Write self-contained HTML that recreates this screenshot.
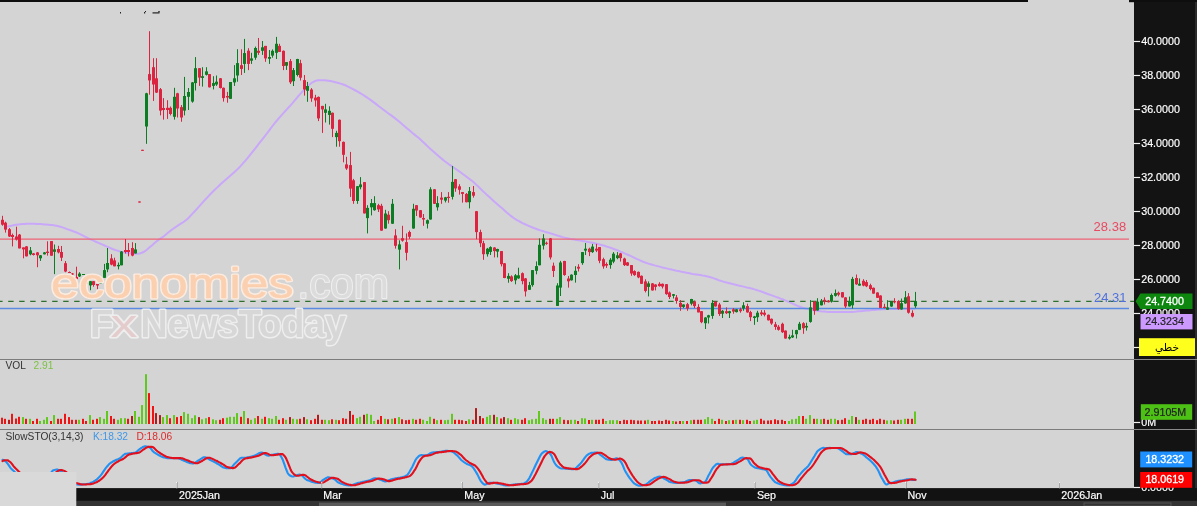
<!DOCTYPE html>
<html lang="en"><head><meta charset="utf-8"><title>Chart</title>
<style>html,body{margin:0;padding:0;background:#d4d4d4;}body{width:1197px;height:506px;overflow:hidden;font-family:"Liberation Sans","DejaVu Sans",sans-serif;}svg{display:block;}</style>
</head><body>
<svg width="1197" height="506" viewBox="0 0 1197 506" font-family="'Liberation Sans', 'DejaVu Sans', sans-serif">
<rect x="0" y="0" width="1197" height="506" fill="#d4d4d4"/>
<g fill="#222"><rect x="120" y="12" width="1" height="1.5"/><rect x="144" y="12" width="1.2" height="1.5"/><rect x="145" y="11" width="1" height="1"/><rect x="152.5" y="12.3" width="7" height="1.2"/><rect x="158" y="11.3" width="2" height="1"/></g>
<path d="M6.5,226.6 L8.5,226.3 L10.5,225.9 L12.5,225.5 L14.5,225.1 L16.5,224.7 L18.5,224.4 L20.5,224.2 L22.5,224.0 L24.5,223.9 L26.5,223.8 L28.5,223.7 L30.5,223.7 L32.5,223.7 L34.5,223.8 L36.5,223.9 L38.5,224.0 L40.5,224.1 L42.5,224.2 L44.5,224.4 L46.5,224.5 L48.5,224.7 L50.5,224.9 L52.5,225.1 L54.5,225.4 L56.5,225.7 L58.5,226.2 L60.5,226.8 L62.5,227.4 L64.5,228.1 L66.5,228.9 L68.5,229.6 L70.5,230.3 L72.5,231.0 L74.5,231.7 L76.5,232.5 L78.5,233.4 L80.5,234.3 L82.5,235.3 L84.5,236.4 L86.5,237.4 L88.5,238.4 L90.5,239.3 L92.5,240.2 L94.5,241.1 L96.5,242.0 L98.5,242.9 L100.5,243.7 L102.5,244.6 L104.5,245.5 L106.5,246.4 L108.5,247.2 L110.5,248.1 L112.5,249.0 L114.5,249.8 L116.5,250.4 L118.5,251.0 L120.5,251.6 L122.5,252.1 L124.5,252.5 L126.5,252.8 L128.5,253.1 L130.5,253.3 L132.5,253.5 L134.5,253.7 L136.5,253.8 L138.5,253.7 L140.5,253.2 L142.5,252.5 L144.5,251.5 L146.5,250.0 L148.5,248.3 L150.5,246.6 L152.5,244.9 L154.5,243.1 L156.5,241.4 L158.5,239.9 L160.5,238.5 L162.5,237.2 L164.5,235.7 L166.5,234.0 L168.5,232.3 L170.5,230.7 L172.5,229.2 L174.5,227.8 L176.5,226.5 L178.5,225.2 L180.5,223.9 L182.5,222.7 L184.5,221.3 L186.5,219.7 L188.5,217.9 L190.5,215.8 L192.5,213.6 L194.5,211.5 L196.5,209.3 L198.5,207.1 L200.5,204.8 L202.5,202.6 L204.5,200.4 L206.5,198.3 L208.5,196.1 L210.5,194.0 L212.5,192.0 L214.5,190.0 L216.5,188.1 L218.5,186.2 L220.5,184.3 L222.5,182.5 L224.5,180.8 L226.5,179.1 L228.5,177.3 L230.5,175.6 L232.5,173.8 L234.5,172.0 L236.5,170.1 L238.5,168.2 L240.5,166.1 L242.5,163.9 L244.5,161.6 L246.5,159.3 L248.5,156.9 L250.5,154.4 L252.5,151.9 L254.5,149.3 L256.5,146.8 L258.5,144.2 L260.5,141.7 L262.5,139.2 L264.5,136.6 L266.5,134.0 L268.5,131.3 L270.5,128.6 L272.5,126.0 L274.5,123.4 L276.5,121.0 L278.5,118.6 L280.5,116.3 L282.5,114.1 L284.5,111.8 L286.5,109.7 L288.5,107.5 L290.5,105.3 L292.5,103.1 L294.5,100.7 L296.5,98.3 L298.5,95.9 L300.5,93.7 L302.5,91.5 L304.5,89.5 L306.5,87.5 L308.5,85.5 L310.5,83.7 L312.5,82.3 L314.5,81.3 L316.5,80.6 L318.5,80.2 L320.5,80.2 L322.5,80.2 L324.5,80.2 L326.5,80.4 L328.5,80.7 L330.5,81.1 L332.5,81.5 L334.5,82.0 L336.5,82.5 L338.5,83.0 L340.5,83.6 L342.5,84.3 L344.5,85.0 L346.5,85.8 L348.5,86.8 L350.5,87.9 L352.5,88.9 L354.5,90.0 L356.5,91.0 L358.5,92.1 L360.5,93.3 L362.5,94.5 L364.5,95.8 L366.5,97.1 L368.5,98.5 L370.5,99.9 L372.5,101.4 L374.5,102.9 L376.5,104.4 L378.5,106.0 L380.5,107.5 L382.5,109.0 L384.5,110.5 L386.5,112.0 L388.5,113.5 L390.5,114.9 L392.5,116.4 L394.5,117.9 L396.5,119.5 L398.5,121.1 L400.5,122.8 L402.5,124.5 L404.5,126.2 L406.5,127.9 L408.5,129.6 L410.5,131.3 L412.5,133.0 L414.5,134.6 L416.5,136.2 L418.5,137.8 L420.5,139.5 L422.5,141.4 L424.5,143.3 L426.5,145.2 L428.5,147.1 L430.5,149.0 L432.5,150.8 L434.5,152.5 L436.5,154.3 L438.5,156.1 L440.5,157.8 L442.5,159.4 L444.5,161.0 L446.5,162.5 L448.5,164.0 L450.5,165.4 L452.5,166.7 L454.5,168.1 L456.5,169.5 L458.5,170.9 L460.5,172.3 L462.5,173.8 L464.5,175.2 L466.5,176.7 L468.5,178.2 L470.5,179.7 L472.5,181.3 L474.5,183.1 L476.5,184.9 L478.5,186.8 L480.5,188.7 L482.5,190.7 L484.5,192.6 L486.5,194.5 L488.5,196.3 L490.5,198.1 L492.5,199.9 L494.5,201.7 L496.5,203.4 L498.5,205.2 L500.5,206.9 L502.5,208.6 L504.5,210.4 L506.5,212.2 L508.5,213.9 L510.5,215.6 L512.5,217.1 L514.5,218.5 L516.5,219.8 L518.5,220.9 L520.5,222.0 L522.5,223.1 L524.5,224.0 L526.5,224.9 L528.5,225.8 L530.5,226.6 L532.5,227.5 L534.5,228.2 L536.5,229.0 L538.5,229.7 L540.5,230.4 L542.5,231.0 L544.5,231.6 L546.5,232.2 L548.5,232.8 L550.5,233.4 L552.5,234.0 L554.5,234.6 L556.5,235.3 L558.5,235.9 L560.5,236.5 L562.5,237.1 L564.5,237.6 L566.5,238.1 L568.5,238.5 L570.5,238.9 L572.5,239.2 L574.5,239.6 L576.5,239.9 L578.5,240.2 L580.5,240.6 L582.5,241.0 L584.5,241.3 L586.5,241.7 L588.5,242.1 L590.5,242.4 L592.5,242.8 L594.5,243.2 L596.5,243.7 L598.5,244.2 L600.5,244.7 L602.5,245.2 L604.5,245.8 L606.5,246.5 L608.5,247.1 L610.5,247.8 L612.5,248.5 L614.5,249.2 L616.5,249.9 L618.5,250.7 L620.5,251.6 L622.5,252.4 L624.5,253.3 L626.5,254.2 L628.5,255.0 L630.5,255.9 L632.5,256.8 L634.5,257.8 L636.5,258.8 L638.5,259.7 L640.5,260.6 L642.5,261.5 L644.5,262.3 L646.5,263.0 L648.5,263.6 L650.5,264.2 L652.5,264.8 L654.5,265.4 L656.5,265.9 L658.5,266.4 L660.5,266.9 L662.5,267.5 L664.5,267.9 L666.5,268.4 L668.5,268.9 L670.5,269.3 L672.5,269.8 L674.5,270.2 L676.5,270.7 L678.5,271.1 L680.5,271.5 L682.5,271.9 L684.5,272.3 L686.5,272.7 L688.5,273.1 L690.5,273.5 L692.5,273.9 L694.5,274.2 L696.5,274.5 L698.5,274.8 L700.5,275.1 L702.5,275.5 L704.5,275.8 L706.5,276.2 L708.5,276.7 L710.5,277.2 L712.5,277.9 L714.5,278.6 L716.5,279.3 L718.5,280.1 L720.5,280.8 L722.5,281.4 L724.5,282.0 L726.5,282.5 L728.5,283.0 L730.5,283.5 L732.5,284.0 L734.5,284.5 L736.5,285.0 L738.5,285.5 L740.5,285.9 L742.5,286.4 L744.5,286.9 L746.5,287.4 L748.5,287.8 L750.5,288.3 L752.5,288.8 L754.5,289.4 L756.5,290.0 L758.5,290.6 L760.5,291.3 L762.5,292.0 L764.5,292.7 L766.5,293.5 L768.5,294.2 L770.5,294.9 L772.5,295.6 L774.5,296.4 L776.5,297.1 L778.5,297.8 L780.5,298.6 L782.5,299.3 L784.5,300.1 L786.5,300.9 L788.5,301.7 L790.5,302.7 L792.5,303.6 L794.5,304.5 L796.5,305.4 L798.5,306.3 L800.5,307.0 L802.5,307.7 L804.5,308.3 L806.5,308.8 L808.5,309.3 L810.5,309.7 L812.5,310.1 L814.5,310.4 L816.5,310.7 L818.5,310.9 L820.5,311.2 L822.5,311.4 L824.5,311.6 L826.5,311.8 L828.5,311.9 L830.5,312.0 L832.5,312.1 L834.5,312.1 L836.5,312.1 L838.5,312.1 L840.5,312.1 L842.5,312.1 L844.5,312.1 L846.5,312.1 L848.5,312.1 L850.5,312.1 L852.5,311.9 L854.5,311.8 L856.5,311.6 L858.5,311.3 L860.5,311.2 L862.5,311.0 L864.5,310.8 L866.5,310.6 L868.5,310.4 L870.5,310.3 L872.5,310.1 L874.5,309.9 L876.5,309.7 L878.5,309.6 L880.5,309.5 L882.5,309.3 L884.5,309.2 L886.5,309.1 L888.5,309.0 L890.5,309.0 L892.5,308.9 L894.5,308.9 L896.5,308.9 L898.5,308.8 L900.5,308.8 L902.5,308.8 L904.5,308.8 L906.5,308.8 L908.5,308.8 L910.5,308.8 L912.5,308.8 L914.5,308.8" fill="none" stroke="#c9a8fa" stroke-width="2.0" stroke-linejoin="round" stroke-linecap="round"/>
<line x1="0" y1="239.1" x2="1129" y2="239.1" stroke="#ee6374" stroke-width="1.3"/>
<line x1="0" y1="308.5" x2="1129" y2="308.5" stroke="#5a8ae2" stroke-width="1.5"/>
<line x1="-2.8" y1="301.4" x2="1135.5" y2="301.4" stroke="#2c6e2c" stroke-width="1.1" stroke-dasharray="5.4 5.6"/>
<g>
<rect x="2.00" y="215.8" width="1" height="9.9" fill="#dc2340"/>
<rect x="1.00" y="219.8" width="3" height="4.9" fill="#dc2340"/>
<rect x="5.00" y="221.7" width="1" height="10.9" fill="#dc2340"/>
<rect x="4.00" y="222.7" width="3" height="6.9" fill="#dc2340"/>
<rect x="9.00" y="228.0" width="1" height="9.0" fill="#dc2340"/>
<rect x="8.00" y="229.2" width="3" height="7.3" fill="#dc2340"/>
<rect x="12.00" y="233.6" width="1" height="12.8" fill="#dc2340"/>
<rect x="11.00" y="235.0" width="3" height="2.0" fill="#dc2340"/>
<rect x="16.00" y="226.7" width="1" height="13.8" fill="#dc2340"/>
<rect x="15.00" y="236.5" width="3" height="3.0" fill="#dc2340"/>
<rect x="19.00" y="234.0" width="1" height="14.4" fill="#dc2340"/>
<rect x="18.00" y="234.6" width="3" height="13.8" fill="#dc2340"/>
<rect x="23.00" y="247.4" width="1" height="10.9" fill="#dc2340"/>
<rect x="22.00" y="247.4" width="3" height="2.0" fill="#dc2340"/>
<rect x="26.00" y="246.0" width="1" height="10.5" fill="#dc2340"/>
<rect x="25.00" y="246.4" width="3" height="9.9" fill="#dc2340"/>
<rect x="30.00" y="247.0" width="1" height="8.3" fill="#0c7d22"/>
<rect x="29.00" y="250.4" width="3" height="3.9" fill="#0c7d22"/>
<rect x="33.00" y="253.0" width="1" height="2.5" fill="#dc2340"/>
<rect x="32.00" y="253.4" width="3" height="1.6" fill="#dc2340"/>
<rect x="37.00" y="252.0" width="1" height="15.2" fill="#dc2340"/>
<rect x="36.00" y="252.4" width="3" height="2.9" fill="#dc2340"/>
<rect x="40.00" y="255.0" width="1" height="5.9" fill="#0c7d22"/>
<rect x="39.00" y="255.3" width="3" height="3.0" fill="#0c7d22"/>
<rect x="44.00" y="252.0" width="1" height="2.5" fill="#0c7d22"/>
<rect x="43.00" y="252.4" width="3" height="1.9" fill="#0c7d22"/>
<rect x="47.00" y="241.3" width="1" height="14.3" fill="#dc2340"/>
<rect x="46.00" y="251.6" width="3" height="1.4" fill="#dc2340"/>
<rect x="51.00" y="241.1" width="1" height="14.6" fill="#dc2340"/>
<rect x="50.00" y="241.1" width="3" height="14.6" fill="#dc2340"/>
<rect x="54.00" y="244.5" width="1" height="29.6" fill="#0c7d22"/>
<rect x="53.00" y="249.4" width="3" height="2.4" fill="#0c7d22"/>
<rect x="58.00" y="245.8" width="1" height="7.6" fill="#dc2340"/>
<rect x="57.00" y="249.0" width="3" height="3.4" fill="#dc2340"/>
<rect x="61.00" y="246.0" width="1" height="15.0" fill="#dc2340"/>
<rect x="60.00" y="252.0" width="3" height="5.7" fill="#dc2340"/>
<rect x="65.00" y="261.0" width="1" height="11.2" fill="#dc2340"/>
<rect x="64.00" y="263.2" width="3" height="8.3" fill="#dc2340"/>
<rect x="69.00" y="271.5" width="1" height="1.5" fill="#dc2340"/>
<rect x="68.00" y="272.0" width="3" height="1.0" fill="#dc2340"/>
<rect x="72.00" y="273.0" width="1" height="2.0" fill="#dc2340"/>
<rect x="71.00" y="273.5" width="3" height="1.0" fill="#dc2340"/>
<rect x="76.00" y="266.7" width="1" height="12.4" fill="#dc2340"/>
<rect x="75.00" y="277.0" width="3" height="2.1" fill="#dc2340"/>
<rect x="79.00" y="272.2" width="1" height="4.8" fill="#0c7d22"/>
<rect x="78.00" y="273.6" width="3" height="2.8" fill="#0c7d22"/>
<rect x="83.00" y="274.0" width="1" height="1.0" fill="#0c7d22"/>
<rect x="82.00" y="274.0" width="3" height="1.0" fill="#0c7d22"/>
<rect x="86.00" y="281.0" width="1" height="3.0" fill="#dc2340"/>
<rect x="85.00" y="281.5" width="3" height="2.2" fill="#dc2340"/>
<rect x="90.00" y="281.0" width="1" height="9.2" fill="#0c7d22"/>
<rect x="89.00" y="281.2" width="3" height="4.2" fill="#0c7d22"/>
<rect x="93.00" y="281.0" width="1" height="5.7" fill="#dc2340"/>
<rect x="92.00" y="281.2" width="3" height="3.8" fill="#dc2340"/>
<rect x="97.00" y="284.0" width="1" height="5.5" fill="#dc2340"/>
<rect x="96.00" y="284.0" width="3" height="1.5" fill="#dc2340"/>
<rect x="100.00" y="282.5" width="1" height="1.0" fill="#0c7d22"/>
<rect x="99.00" y="282.5" width="3" height="1.0" fill="#0c7d22"/>
<rect x="104.00" y="263.9" width="1" height="13.9" fill="#0c7d22"/>
<rect x="103.00" y="270.1" width="3" height="7.7" fill="#0c7d22"/>
<rect x="107.00" y="248.0" width="1" height="24.2" fill="#0c7d22"/>
<rect x="106.00" y="263.0" width="3" height="6.4" fill="#0c7d22"/>
<rect x="111.00" y="254.2" width="1" height="11.1" fill="#dc2340"/>
<rect x="110.00" y="258.4" width="3" height="6.2" fill="#dc2340"/>
<rect x="114.00" y="257.7" width="1" height="8.6" fill="#dc2340"/>
<rect x="113.00" y="260.4" width="3" height="5.9" fill="#dc2340"/>
<rect x="118.00" y="262.5" width="1" height="6.9" fill="#0c7d22"/>
<rect x="117.00" y="264.9" width="3" height="1.4" fill="#0c7d22"/>
<rect x="121.00" y="251.0" width="1" height="14.3" fill="#0c7d22"/>
<rect x="120.00" y="251.5" width="3" height="13.8" fill="#0c7d22"/>
<rect x="125.00" y="239.0" width="1" height="14.5" fill="#dc2340"/>
<rect x="124.00" y="250.0" width="3" height="2.0" fill="#dc2340"/>
<rect x="128.00" y="243.0" width="1" height="13.3" fill="#dc2340"/>
<rect x="127.00" y="250.0" width="3" height="2.0" fill="#dc2340"/>
<rect x="132.00" y="242.2" width="1" height="14.1" fill="#dc2340"/>
<rect x="131.00" y="248.0" width="3" height="7.6" fill="#dc2340"/>
<rect x="135.00" y="243.1" width="1" height="10.4" fill="#0c7d22"/>
<rect x="134.00" y="249.4" width="3" height="4.1" fill="#0c7d22"/>
<rect x="139.00" y="201.5" width="1" height="1.0" fill="#dc2340"/>
<rect x="138.00" y="201.5" width="3" height="1.0" fill="#dc2340"/>
<rect x="142.00" y="149.8" width="1" height="1.0" fill="#dc2340"/>
<rect x="141.00" y="149.8" width="3" height="1.0" fill="#dc2340"/>
<rect x="146.00" y="92.8" width="1" height="51.0" fill="#0c7d22"/>
<rect x="145.00" y="93.3" width="3" height="33.2" fill="#0c7d22"/>
<rect x="149.00" y="31.2" width="1" height="63.5" fill="#dc2340"/>
<rect x="148.00" y="74.1" width="3" height="6.3" fill="#dc2340"/>
<rect x="153.00" y="58.2" width="1" height="42.7" fill="#dc2340"/>
<rect x="152.00" y="67.2" width="3" height="17.3" fill="#dc2340"/>
<rect x="156.00" y="58.2" width="1" height="34.8" fill="#dc2340"/>
<rect x="155.00" y="78.3" width="3" height="14.3" fill="#dc2340"/>
<rect x="160.00" y="88.0" width="1" height="27.4" fill="#dc2340"/>
<rect x="159.00" y="89.2" width="3" height="21.4" fill="#dc2340"/>
<rect x="163.00" y="98.1" width="1" height="21.5" fill="#dc2340"/>
<rect x="162.00" y="108.0" width="3" height="2.0" fill="#dc2340"/>
<rect x="167.00" y="100.2" width="1" height="18.7" fill="#dc2340"/>
<rect x="166.00" y="107.8" width="3" height="2.2" fill="#dc2340"/>
<rect x="170.00" y="106.5" width="1" height="8.9" fill="#dc2340"/>
<rect x="169.00" y="107.8" width="3" height="6.2" fill="#dc2340"/>
<rect x="174.00" y="87.8" width="1" height="31.8" fill="#0c7d22"/>
<rect x="173.00" y="96.8" width="3" height="20.0" fill="#0c7d22"/>
<rect x="177.00" y="92.8" width="1" height="24.7" fill="#dc2340"/>
<rect x="176.00" y="93.3" width="3" height="15.2" fill="#dc2340"/>
<rect x="181.00" y="105.0" width="1" height="16.7" fill="#dc2340"/>
<rect x="180.00" y="107.1" width="3" height="10.4" fill="#dc2340"/>
<rect x="184.00" y="76.9" width="1" height="38.5" fill="#0c7d22"/>
<rect x="183.00" y="96.0" width="3" height="14.6" fill="#0c7d22"/>
<rect x="188.00" y="88.0" width="1" height="22.0" fill="#0c7d22"/>
<rect x="187.00" y="92.0" width="3" height="4.8" fill="#0c7d22"/>
<rect x="192.00" y="82.0" width="1" height="20.7" fill="#0c7d22"/>
<rect x="191.00" y="82.4" width="3" height="19.2" fill="#0c7d22"/>
<rect x="195.00" y="57.1" width="1" height="33.4" fill="#0c7d22"/>
<rect x="194.00" y="68.2" width="3" height="14.9" fill="#0c7d22"/>
<rect x="199.00" y="68.0" width="1" height="17.9" fill="#dc2340"/>
<rect x="198.00" y="68.2" width="3" height="9.4" fill="#dc2340"/>
<rect x="202.00" y="67.2" width="1" height="19.4" fill="#0c7d22"/>
<rect x="201.00" y="76.2" width="3" height="1.7" fill="#0c7d22"/>
<rect x="206.00" y="67.2" width="1" height="8.3" fill="#0c7d22"/>
<rect x="205.00" y="71.4" width="3" height="3.4" fill="#0c7d22"/>
<rect x="209.00" y="74.0" width="1" height="13.5" fill="#dc2340"/>
<rect x="208.00" y="74.1" width="3" height="13.2" fill="#dc2340"/>
<rect x="213.00" y="76.2" width="1" height="13.2" fill="#0c7d22"/>
<rect x="212.00" y="83.1" width="3" height="2.8" fill="#0c7d22"/>
<rect x="216.00" y="75.5" width="1" height="10.4" fill="#0c7d22"/>
<rect x="215.00" y="81.7" width="3" height="2.8" fill="#0c7d22"/>
<rect x="220.00" y="78.0" width="1" height="10.5" fill="#dc2340"/>
<rect x="219.00" y="78.3" width="3" height="9.7" fill="#dc2340"/>
<rect x="223.00" y="87.5" width="1" height="14.1" fill="#dc2340"/>
<rect x="222.00" y="87.8" width="3" height="10.3" fill="#dc2340"/>
<rect x="227.00" y="91.9" width="1" height="10.8" fill="#dc2340"/>
<rect x="226.00" y="96.0" width="3" height="1.5" fill="#dc2340"/>
<rect x="230.00" y="82.0" width="1" height="16.8" fill="#0c7d22"/>
<rect x="229.00" y="82.0" width="3" height="16.8" fill="#0c7d22"/>
<rect x="234.00" y="65.1" width="1" height="20.8" fill="#0c7d22"/>
<rect x="233.00" y="78.3" width="3" height="4.1" fill="#0c7d22"/>
<rect x="237.00" y="49.2" width="1" height="32.5" fill="#0c7d22"/>
<rect x="236.00" y="63.1" width="3" height="12.4" fill="#0c7d22"/>
<rect x="241.00" y="49.3" width="1" height="25.7" fill="#dc2340"/>
<rect x="240.00" y="65.2" width="3" height="3.7" fill="#dc2340"/>
<rect x="244.00" y="38.9" width="1" height="34.0" fill="#0c7d22"/>
<rect x="243.00" y="53.1" width="3" height="10.8" fill="#0c7d22"/>
<rect x="248.00" y="48.2" width="1" height="21.9" fill="#dc2340"/>
<rect x="247.00" y="50.7" width="3" height="13.2" fill="#dc2340"/>
<rect x="251.00" y="52.8" width="1" height="11.1" fill="#0c7d22"/>
<rect x="250.00" y="58.4" width="3" height="2.3" fill="#0c7d22"/>
<rect x="255.00" y="46.6" width="1" height="13.2" fill="#0c7d22"/>
<rect x="254.00" y="48.0" width="3" height="9.7" fill="#0c7d22"/>
<rect x="258.00" y="38.0" width="1" height="16.9" fill="#dc2340"/>
<rect x="257.00" y="50.8" width="3" height="2.0" fill="#dc2340"/>
<rect x="262.00" y="41.0" width="1" height="13.9" fill="#0c7d22"/>
<rect x="261.00" y="47.3" width="3" height="3.5" fill="#0c7d22"/>
<rect x="265.00" y="45.9" width="1" height="15.9" fill="#dc2340"/>
<rect x="264.00" y="45.9" width="3" height="12.5" fill="#dc2340"/>
<rect x="269.00" y="50.0" width="1" height="13.9" fill="#0c7d22"/>
<rect x="268.00" y="57.0" width="3" height="1.8" fill="#0c7d22"/>
<rect x="272.00" y="49.4" width="1" height="8.3" fill="#0c7d22"/>
<rect x="271.00" y="50.8" width="3" height="4.8" fill="#0c7d22"/>
<rect x="276.00" y="36.9" width="1" height="22.1" fill="#0c7d22"/>
<rect x="275.00" y="43.8" width="3" height="9.0" fill="#0c7d22"/>
<rect x="279.00" y="43.8" width="1" height="8.2" fill="#dc2340"/>
<rect x="278.00" y="45.9" width="3" height="6.0" fill="#dc2340"/>
<rect x="283.00" y="50.5" width="1" height="19.6" fill="#dc2340"/>
<rect x="282.00" y="50.8" width="3" height="15.2" fill="#dc2340"/>
<rect x="286.00" y="62.0" width="1" height="7.9" fill="#0c7d22"/>
<rect x="285.00" y="62.1" width="3" height="3.6" fill="#0c7d22"/>
<rect x="290.00" y="59.0" width="1" height="25.0" fill="#dc2340"/>
<rect x="289.00" y="61.1" width="3" height="21.2" fill="#dc2340"/>
<rect x="293.00" y="68.0" width="1" height="18.0" fill="#0c7d22"/>
<rect x="292.00" y="70.1" width="3" height="11.1" fill="#0c7d22"/>
<rect x="297.00" y="58.8" width="1" height="17.6" fill="#0c7d22"/>
<rect x="296.00" y="59.0" width="3" height="16.0" fill="#0c7d22"/>
<rect x="300.00" y="59.8" width="1" height="20.7" fill="#dc2340"/>
<rect x="299.00" y="63.2" width="3" height="14.5" fill="#dc2340"/>
<rect x="304.00" y="75.0" width="1" height="20.6" fill="#dc2340"/>
<rect x="303.00" y="80.1" width="3" height="9.4" fill="#dc2340"/>
<rect x="307.00" y="81.9" width="1" height="19.9" fill="#0c7d22"/>
<rect x="306.00" y="86.0" width="3" height="4.8" fill="#0c7d22"/>
<rect x="311.00" y="88.1" width="1" height="13.7" fill="#dc2340"/>
<rect x="310.00" y="89.5" width="3" height="8.9" fill="#dc2340"/>
<rect x="315.00" y="94.8" width="1" height="11.8" fill="#dc2340"/>
<rect x="314.00" y="97.6" width="3" height="2.8" fill="#dc2340"/>
<rect x="318.00" y="96.5" width="1" height="24.6" fill="#dc2340"/>
<rect x="317.00" y="96.9" width="3" height="21.5" fill="#dc2340"/>
<rect x="322.00" y="105.9" width="1" height="27.0" fill="#dc2340"/>
<rect x="321.00" y="105.9" width="3" height="3.5" fill="#dc2340"/>
<rect x="325.00" y="103.8" width="1" height="18.7" fill="#0c7d22"/>
<rect x="324.00" y="109.4" width="3" height="3.4" fill="#0c7d22"/>
<rect x="329.00" y="106.3" width="1" height="18.3" fill="#0c7d22"/>
<rect x="328.00" y="110.8" width="3" height="4.1" fill="#0c7d22"/>
<rect x="332.00" y="112.5" width="1" height="24.6" fill="#dc2340"/>
<rect x="331.00" y="112.8" width="3" height="16.0" fill="#dc2340"/>
<rect x="336.00" y="130.8" width="1" height="15.9" fill="#0c7d22"/>
<rect x="335.00" y="132.9" width="3" height="4.2" fill="#0c7d22"/>
<rect x="339.00" y="119.5" width="1" height="27.2" fill="#dc2340"/>
<rect x="338.00" y="119.8" width="3" height="21.4" fill="#dc2340"/>
<rect x="343.00" y="141.5" width="1" height="20.8" fill="#dc2340"/>
<rect x="342.00" y="141.9" width="3" height="12.9" fill="#dc2340"/>
<rect x="346.00" y="156.8" width="1" height="13.1" fill="#dc2340"/>
<rect x="345.00" y="164.4" width="3" height="4.1" fill="#dc2340"/>
<rect x="350.00" y="151.9" width="1" height="45.0" fill="#dc2340"/>
<rect x="349.00" y="165.1" width="3" height="23.5" fill="#dc2340"/>
<rect x="353.00" y="178.9" width="1" height="24.9" fill="#dc2340"/>
<rect x="352.00" y="180.3" width="3" height="20.7" fill="#dc2340"/>
<rect x="357.00" y="186.0" width="1" height="17.8" fill="#0c7d22"/>
<rect x="356.00" y="186.2" width="3" height="14.8" fill="#0c7d22"/>
<rect x="360.00" y="177.1" width="1" height="12.2" fill="#0c7d22"/>
<rect x="359.00" y="184.4" width="3" height="2.8" fill="#0c7d22"/>
<rect x="364.00" y="182.0" width="1" height="31.5" fill="#dc2340"/>
<rect x="363.00" y="182.1" width="3" height="31.3" fill="#dc2340"/>
<rect x="367.00" y="205.2" width="1" height="28.2" fill="#0c7d22"/>
<rect x="366.00" y="207.9" width="3" height="10.2" fill="#0c7d22"/>
<rect x="371.00" y="199.0" width="1" height="16.4" fill="#0c7d22"/>
<rect x="370.00" y="203.1" width="3" height="4.2" fill="#0c7d22"/>
<rect x="374.00" y="196.2" width="1" height="14.5" fill="#0c7d22"/>
<rect x="373.00" y="203.1" width="3" height="7.1" fill="#0c7d22"/>
<rect x="378.00" y="203.8" width="1" height="8.2" fill="#dc2340"/>
<rect x="377.00" y="205.2" width="3" height="4.2" fill="#dc2340"/>
<rect x="381.00" y="203.8" width="1" height="27.0" fill="#dc2340"/>
<rect x="380.00" y="205.8" width="3" height="24.8" fill="#dc2340"/>
<rect x="385.00" y="209.8" width="1" height="18.9" fill="#0c7d22"/>
<rect x="384.00" y="213.5" width="3" height="15.0" fill="#0c7d22"/>
<rect x="388.00" y="211.2" width="1" height="12.5" fill="#dc2340"/>
<rect x="387.00" y="214.7" width="3" height="5.5" fill="#dc2340"/>
<rect x="392.00" y="199.0" width="1" height="24.9" fill="#0c7d22"/>
<rect x="391.00" y="203.8" width="3" height="19.9" fill="#0c7d22"/>
<rect x="395.00" y="229.2" width="1" height="19.4" fill="#dc2340"/>
<rect x="394.00" y="235.4" width="3" height="10.4" fill="#dc2340"/>
<rect x="399.00" y="240.3" width="1" height="29.1" fill="#0c7d22"/>
<rect x="398.00" y="244.4" width="3" height="5.2" fill="#0c7d22"/>
<rect x="402.00" y="225.8" width="1" height="15.9" fill="#dc2340"/>
<rect x="401.00" y="238.2" width="3" height="2.5" fill="#dc2340"/>
<rect x="406.00" y="233.4" width="1" height="27.0" fill="#dc2340"/>
<rect x="405.00" y="242.1" width="3" height="10.7" fill="#dc2340"/>
<rect x="409.00" y="230.6" width="1" height="8.3" fill="#dc2340"/>
<rect x="408.00" y="232.0" width="3" height="4.8" fill="#dc2340"/>
<rect x="413.00" y="203.8" width="1" height="24.9" fill="#0c7d22"/>
<rect x="412.00" y="208.8" width="3" height="19.7" fill="#0c7d22"/>
<rect x="416.00" y="205.0" width="1" height="11.0" fill="#dc2340"/>
<rect x="415.00" y="205.2" width="3" height="5.3" fill="#dc2340"/>
<rect x="420.00" y="210.0" width="1" height="7.7" fill="#dc2340"/>
<rect x="419.00" y="210.2" width="3" height="7.3" fill="#dc2340"/>
<rect x="423.00" y="214.0" width="1" height="11.8" fill="#dc2340"/>
<rect x="422.00" y="218.0" width="3" height="1.5" fill="#dc2340"/>
<rect x="427.00" y="219.5" width="1" height="9.0" fill="#0c7d22"/>
<rect x="426.00" y="220.2" width="3" height="3.5" fill="#0c7d22"/>
<rect x="430.00" y="187.2" width="1" height="32.5" fill="#0c7d22"/>
<rect x="429.00" y="189.3" width="3" height="30.2" fill="#0c7d22"/>
<rect x="434.00" y="189.0" width="1" height="15.0" fill="#dc2340"/>
<rect x="433.00" y="189.3" width="3" height="14.5" fill="#dc2340"/>
<rect x="437.00" y="196.2" width="1" height="14.4" fill="#0c7d22"/>
<rect x="436.00" y="203.1" width="3" height="4.2" fill="#0c7d22"/>
<rect x="441.00" y="192.1" width="1" height="11.7" fill="#dc2340"/>
<rect x="440.00" y="197.6" width="3" height="2.1" fill="#dc2340"/>
<rect x="445.00" y="196.9" width="1" height="5.5" fill="#0c7d22"/>
<rect x="444.00" y="197.3" width="3" height="3.3" fill="#0c7d22"/>
<rect x="448.00" y="192.1" width="1" height="10.6" fill="#dc2340"/>
<rect x="447.00" y="196.8" width="3" height="1.2" fill="#dc2340"/>
<rect x="452.00" y="166.0" width="1" height="33.5" fill="#0c7d22"/>
<rect x="451.00" y="181.9" width="3" height="14.9" fill="#0c7d22"/>
<rect x="455.00" y="179.0" width="1" height="12.8" fill="#dc2340"/>
<rect x="454.00" y="179.2" width="3" height="9.2" fill="#dc2340"/>
<rect x="459.00" y="184.2" width="1" height="10.4" fill="#dc2340"/>
<rect x="458.00" y="186.3" width="3" height="3.5" fill="#dc2340"/>
<rect x="462.00" y="192.0" width="1" height="10.6" fill="#dc2340"/>
<rect x="461.00" y="192.1" width="3" height="1.8" fill="#dc2340"/>
<rect x="466.00" y="193.0" width="1" height="9.4" fill="#dc2340"/>
<rect x="465.00" y="193.9" width="3" height="8.3" fill="#dc2340"/>
<rect x="469.00" y="187.0" width="1" height="21.4" fill="#0c7d22"/>
<rect x="468.00" y="191.1" width="3" height="11.1" fill="#0c7d22"/>
<rect x="473.00" y="186.0" width="1" height="11.6" fill="#dc2340"/>
<rect x="472.00" y="192.1" width="3" height="3.6" fill="#dc2340"/>
<rect x="476.00" y="211.0" width="1" height="28.2" fill="#dc2340"/>
<rect x="475.00" y="211.2" width="3" height="20.9" fill="#dc2340"/>
<rect x="480.00" y="229.7" width="1" height="17.4" fill="#dc2340"/>
<rect x="479.00" y="232.1" width="3" height="11.1" fill="#dc2340"/>
<rect x="483.00" y="240.8" width="1" height="19.0" fill="#dc2340"/>
<rect x="482.00" y="243.2" width="3" height="11.0" fill="#dc2340"/>
<rect x="487.00" y="247.9" width="1" height="8.7" fill="#0c7d22"/>
<rect x="486.00" y="248.7" width="3" height="5.5" fill="#0c7d22"/>
<rect x="490.00" y="246.3" width="1" height="8.7" fill="#0c7d22"/>
<rect x="489.00" y="247.1" width="3" height="4.8" fill="#0c7d22"/>
<rect x="494.00" y="247.1" width="1" height="10.3" fill="#dc2340"/>
<rect x="493.00" y="247.5" width="3" height="3.6" fill="#dc2340"/>
<rect x="497.00" y="248.7" width="1" height="8.7" fill="#0c7d22"/>
<rect x="496.00" y="249.0" width="3" height="2.6" fill="#0c7d22"/>
<rect x="501.00" y="251.0" width="1" height="15.4" fill="#dc2340"/>
<rect x="500.00" y="251.1" width="3" height="13.1" fill="#dc2340"/>
<rect x="504.00" y="263.0" width="1" height="15.2" fill="#dc2340"/>
<rect x="503.00" y="263.3" width="3" height="14.7" fill="#dc2340"/>
<rect x="508.00" y="273.2" width="1" height="9.5" fill="#0c7d22"/>
<rect x="507.00" y="275.9" width="3" height="2.9" fill="#0c7d22"/>
<rect x="511.00" y="275.3" width="1" height="6.6" fill="#dc2340"/>
<rect x="510.00" y="276.4" width="3" height="4.7" fill="#dc2340"/>
<rect x="515.00" y="274.0" width="1" height="10.3" fill="#0c7d22"/>
<rect x="514.00" y="275.3" width="3" height="5.0" fill="#0c7d22"/>
<rect x="518.00" y="267.7" width="1" height="11.1" fill="#0c7d22"/>
<rect x="517.00" y="275.3" width="3" height="3.1" fill="#0c7d22"/>
<rect x="522.00" y="272.4" width="1" height="11.9" fill="#dc2340"/>
<rect x="521.00" y="273.2" width="3" height="7.9" fill="#dc2340"/>
<rect x="525.00" y="278.0" width="1" height="18.5" fill="#dc2340"/>
<rect x="524.00" y="278.4" width="3" height="13.0" fill="#dc2340"/>
<rect x="529.00" y="281.9" width="1" height="7.9" fill="#0c7d22"/>
<rect x="528.00" y="285.1" width="3" height="4.7" fill="#0c7d22"/>
<rect x="532.00" y="270.0" width="1" height="16.7" fill="#0c7d22"/>
<rect x="531.00" y="270.1" width="3" height="15.0" fill="#0c7d22"/>
<rect x="536.00" y="261.4" width="1" height="12.9" fill="#0c7d22"/>
<rect x="535.00" y="266.1" width="3" height="4.7" fill="#0c7d22"/>
<rect x="539.00" y="238.4" width="1" height="26.9" fill="#0c7d22"/>
<rect x="538.00" y="244.8" width="3" height="20.5" fill="#0c7d22"/>
<rect x="543.00" y="234.2" width="1" height="15.3" fill="#0c7d22"/>
<rect x="542.00" y="238.4" width="3" height="7.2" fill="#0c7d22"/>
<rect x="546.00" y="241.6" width="1" height="3.2" fill="#dc2340"/>
<rect x="545.00" y="242.8" width="3" height="1.0" fill="#dc2340"/>
<rect x="550.00" y="238.0" width="1" height="21.5" fill="#dc2340"/>
<rect x="549.00" y="238.4" width="3" height="19.0" fill="#dc2340"/>
<rect x="553.00" y="262.6" width="1" height="14.4" fill="#dc2340"/>
<rect x="552.00" y="265.7" width="3" height="5.3" fill="#dc2340"/>
<rect x="557.00" y="283.2" width="1" height="22.7" fill="#0c7d22"/>
<rect x="556.00" y="285.5" width="3" height="20.4" fill="#0c7d22"/>
<rect x="560.00" y="260.9" width="1" height="35.1" fill="#0c7d22"/>
<rect x="559.00" y="262.5" width="3" height="25.1" fill="#0c7d22"/>
<rect x="564.00" y="260.8" width="1" height="15.0" fill="#dc2340"/>
<rect x="563.00" y="261.0" width="3" height="14.0" fill="#dc2340"/>
<rect x="568.00" y="276.0" width="1" height="11.6" fill="#dc2340"/>
<rect x="567.00" y="278.5" width="3" height="2.8" fill="#dc2340"/>
<rect x="571.00" y="274.3" width="1" height="6.3" fill="#0c7d22"/>
<rect x="570.00" y="274.7" width="3" height="5.6" fill="#0c7d22"/>
<rect x="575.00" y="266.2" width="1" height="16.4" fill="#0c7d22"/>
<rect x="574.00" y="270.8" width="3" height="4.2" fill="#0c7d22"/>
<rect x="578.00" y="264.2" width="1" height="7.3" fill="#dc2340"/>
<rect x="577.00" y="266.8" width="3" height="1.8" fill="#dc2340"/>
<rect x="582.00" y="252.0" width="1" height="12.8" fill="#0c7d22"/>
<rect x="581.00" y="252.1" width="3" height="11.0" fill="#0c7d22"/>
<rect x="585.00" y="243.0" width="1" height="12.0" fill="#0c7d22"/>
<rect x="584.00" y="248.7" width="3" height="1.9" fill="#0c7d22"/>
<rect x="589.00" y="247.7" width="1" height="8.4" fill="#dc2340"/>
<rect x="588.00" y="248.7" width="3" height="3.4" fill="#dc2340"/>
<rect x="592.00" y="243.9" width="1" height="9.0" fill="#0c7d22"/>
<rect x="591.00" y="246.6" width="3" height="5.5" fill="#0c7d22"/>
<rect x="596.00" y="243.9" width="1" height="8.2" fill="#dc2340"/>
<rect x="595.00" y="248.7" width="3" height="1.9" fill="#dc2340"/>
<rect x="599.00" y="247.0" width="1" height="16.2" fill="#dc2340"/>
<rect x="598.00" y="247.1" width="3" height="13.7" fill="#dc2340"/>
<rect x="603.00" y="257.7" width="1" height="11.0" fill="#dc2340"/>
<rect x="602.00" y="259.2" width="3" height="7.2" fill="#dc2340"/>
<rect x="606.00" y="262.4" width="1" height="5.5" fill="#dc2340"/>
<rect x="605.00" y="264.0" width="3" height="1.6" fill="#dc2340"/>
<rect x="610.00" y="258.1" width="1" height="10.6" fill="#0c7d22"/>
<rect x="609.00" y="259.7" width="3" height="5.4" fill="#0c7d22"/>
<rect x="613.00" y="252.1" width="1" height="11.1" fill="#0c7d22"/>
<rect x="612.00" y="253.7" width="3" height="7.9" fill="#0c7d22"/>
<rect x="617.00" y="252.1" width="1" height="7.1" fill="#0c7d22"/>
<rect x="616.00" y="255.3" width="3" height="2.8" fill="#0c7d22"/>
<rect x="620.00" y="252.9" width="1" height="8.7" fill="#dc2340"/>
<rect x="619.00" y="253.4" width="3" height="4.7" fill="#dc2340"/>
<rect x="624.00" y="257.7" width="1" height="8.3" fill="#dc2340"/>
<rect x="623.00" y="258.5" width="3" height="6.6" fill="#dc2340"/>
<rect x="627.00" y="262.0" width="1" height="4.0" fill="#dc2340"/>
<rect x="626.00" y="262.4" width="3" height="3.2" fill="#dc2340"/>
<rect x="631.00" y="265.0" width="1" height="10.8" fill="#dc2340"/>
<rect x="630.00" y="265.1" width="3" height="8.4" fill="#dc2340"/>
<rect x="634.00" y="270.3" width="1" height="5.5" fill="#dc2340"/>
<rect x="633.00" y="271.1" width="3" height="4.0" fill="#dc2340"/>
<rect x="638.00" y="271.5" width="1" height="6.7" fill="#dc2340"/>
<rect x="637.00" y="271.9" width="3" height="5.5" fill="#dc2340"/>
<rect x="641.00" y="275.5" width="1" height="8.5" fill="#dc2340"/>
<rect x="640.00" y="275.8" width="3" height="8.0" fill="#dc2340"/>
<rect x="645.00" y="279.3" width="1" height="13.1" fill="#dc2340"/>
<rect x="644.00" y="281.4" width="3" height="9.5" fill="#dc2340"/>
<rect x="648.00" y="281.4" width="1" height="15.0" fill="#0c7d22"/>
<rect x="647.00" y="283.4" width="3" height="3.5" fill="#0c7d22"/>
<rect x="652.00" y="283.0" width="1" height="7.6" fill="#dc2340"/>
<rect x="651.00" y="283.4" width="3" height="7.0" fill="#dc2340"/>
<rect x="655.00" y="284.2" width="1" height="6.2" fill="#dc2340"/>
<rect x="654.00" y="284.5" width="3" height="2.4" fill="#dc2340"/>
<rect x="659.00" y="282.2" width="1" height="4.4" fill="#dc2340"/>
<rect x="658.00" y="283.8" width="3" height="2.3" fill="#dc2340"/>
<rect x="662.00" y="283.5" width="1" height="5.0" fill="#dc2340"/>
<rect x="661.00" y="283.8" width="3" height="2.8" fill="#dc2340"/>
<rect x="666.00" y="284.0" width="1" height="10.8" fill="#dc2340"/>
<rect x="665.00" y="284.2" width="3" height="9.9" fill="#dc2340"/>
<rect x="669.00" y="291.5" width="1" height="7.5" fill="#dc2340"/>
<rect x="668.00" y="292.5" width="3" height="4.5" fill="#dc2340"/>
<rect x="673.00" y="294.0" width="1" height="4.5" fill="#0c7d22"/>
<rect x="672.00" y="294.2" width="3" height="1.6" fill="#0c7d22"/>
<rect x="676.00" y="295.0" width="1" height="8.7" fill="#dc2340"/>
<rect x="675.00" y="297.4" width="3" height="3.6" fill="#dc2340"/>
<rect x="680.00" y="300.1" width="1" height="10.7" fill="#dc2340"/>
<rect x="679.00" y="302.9" width="3" height="4.0" fill="#dc2340"/>
<rect x="683.00" y="304.3" width="1" height="3.7" fill="#0c7d22"/>
<rect x="682.00" y="304.5" width="3" height="2.4" fill="#0c7d22"/>
<rect x="687.00" y="302.9" width="1" height="7.9" fill="#dc2340"/>
<rect x="686.00" y="304.2" width="3" height="4.3" fill="#dc2340"/>
<rect x="691.00" y="298.8" width="1" height="6.5" fill="#0c7d22"/>
<rect x="690.00" y="299.0" width="3" height="4.7" fill="#0c7d22"/>
<rect x="694.00" y="300.6" width="1" height="7.4" fill="#dc2340"/>
<rect x="693.00" y="301.7" width="3" height="4.4" fill="#dc2340"/>
<rect x="698.00" y="304.2" width="1" height="8.2" fill="#dc2340"/>
<rect x="697.00" y="306.9" width="3" height="5.5" fill="#dc2340"/>
<rect x="701.00" y="311.0" width="1" height="12.2" fill="#dc2340"/>
<rect x="700.00" y="311.2" width="3" height="11.0" fill="#dc2340"/>
<rect x="705.00" y="317.2" width="1" height="11.8" fill="#0c7d22"/>
<rect x="704.00" y="317.5" width="3" height="5.7" fill="#0c7d22"/>
<rect x="708.00" y="314.8" width="1" height="8.7" fill="#0c7d22"/>
<rect x="707.00" y="315.3" width="3" height="2.2" fill="#0c7d22"/>
<rect x="712.00" y="300.1" width="1" height="18.7" fill="#0c7d22"/>
<rect x="711.00" y="302.9" width="3" height="13.0" fill="#0c7d22"/>
<rect x="715.00" y="301.5" width="1" height="5.1" fill="#dc2340"/>
<rect x="714.00" y="301.7" width="3" height="4.7" fill="#dc2340"/>
<rect x="719.00" y="302.9" width="1" height="13.0" fill="#dc2340"/>
<rect x="718.00" y="304.5" width="3" height="9.5" fill="#dc2340"/>
<rect x="722.00" y="310.1" width="1" height="7.9" fill="#0c7d22"/>
<rect x="721.00" y="310.8" width="3" height="2.9" fill="#0c7d22"/>
<rect x="726.00" y="307.4" width="1" height="6.6" fill="#dc2340"/>
<rect x="725.00" y="311.2" width="3" height="2.0" fill="#dc2340"/>
<rect x="729.00" y="310.8" width="1" height="7.2" fill="#0c7d22"/>
<rect x="728.00" y="311.2" width="3" height="2.0" fill="#0c7d22"/>
<rect x="733.00" y="308.0" width="1" height="5.7" fill="#dc2340"/>
<rect x="732.00" y="309.3" width="3" height="2.3" fill="#dc2340"/>
<rect x="736.00" y="309.0" width="1" height="3.5" fill="#0c7d22"/>
<rect x="735.00" y="309.3" width="3" height="2.8" fill="#0c7d22"/>
<rect x="740.00" y="307.7" width="1" height="5.0" fill="#dc2340"/>
<rect x="739.00" y="309.3" width="3" height="1.9" fill="#dc2340"/>
<rect x="743.00" y="302.2" width="1" height="8.6" fill="#0c7d22"/>
<rect x="742.00" y="305.3" width="3" height="3.2" fill="#0c7d22"/>
<rect x="747.00" y="303.7" width="1" height="9.0" fill="#dc2340"/>
<rect x="746.00" y="306.1" width="3" height="6.3" fill="#dc2340"/>
<rect x="750.00" y="310.8" width="1" height="10.3" fill="#dc2340"/>
<rect x="749.00" y="312.1" width="3" height="5.1" fill="#dc2340"/>
<rect x="754.00" y="315.9" width="1" height="8.9" fill="#0c7d22"/>
<rect x="753.00" y="316.4" width="3" height="1.6" fill="#0c7d22"/>
<rect x="757.00" y="310.8" width="1" height="11.1" fill="#0c7d22"/>
<rect x="756.00" y="312.7" width="3" height="4.5" fill="#0c7d22"/>
<rect x="761.00" y="310.1" width="1" height="5.8" fill="#dc2340"/>
<rect x="760.00" y="312.4" width="3" height="1.9" fill="#dc2340"/>
<rect x="764.00" y="310.1" width="1" height="6.3" fill="#dc2340"/>
<rect x="763.00" y="312.7" width="3" height="2.1" fill="#dc2340"/>
<rect x="768.00" y="314.5" width="1" height="6.0" fill="#dc2340"/>
<rect x="767.00" y="314.8" width="3" height="5.5" fill="#dc2340"/>
<rect x="771.00" y="318.5" width="1" height="6.3" fill="#dc2340"/>
<rect x="770.00" y="318.8" width="3" height="4.7" fill="#dc2340"/>
<rect x="775.00" y="321.9" width="1" height="7.9" fill="#dc2340"/>
<rect x="774.00" y="324.3" width="3" height="2.7" fill="#dc2340"/>
<rect x="778.00" y="325.1" width="1" height="5.5" fill="#dc2340"/>
<rect x="777.00" y="326.7" width="3" height="3.1" fill="#dc2340"/>
<rect x="782.00" y="322.7" width="1" height="10.3" fill="#dc2340"/>
<rect x="781.00" y="323.8" width="3" height="8.4" fill="#dc2340"/>
<rect x="785.00" y="330.4" width="1" height="8.3" fill="#dc2340"/>
<rect x="784.00" y="330.6" width="3" height="7.9" fill="#dc2340"/>
<rect x="789.00" y="334.6" width="1" height="5.0" fill="#0c7d22"/>
<rect x="788.00" y="336.9" width="3" height="1.6" fill="#0c7d22"/>
<rect x="792.00" y="329.8" width="1" height="8.2" fill="#0c7d22"/>
<rect x="791.00" y="335.4" width="3" height="2.0" fill="#0c7d22"/>
<rect x="796.00" y="329.8" width="1" height="8.7" fill="#0c7d22"/>
<rect x="795.00" y="330.1" width="3" height="4.1" fill="#0c7d22"/>
<rect x="799.00" y="321.9" width="1" height="8.2" fill="#0c7d22"/>
<rect x="798.00" y="323.8" width="3" height="6.0" fill="#0c7d22"/>
<rect x="803.00" y="322.2" width="1" height="11.6" fill="#dc2340"/>
<rect x="802.00" y="323.2" width="3" height="5.0" fill="#dc2340"/>
<rect x="806.00" y="322.7" width="1" height="7.9" fill="#0c7d22"/>
<rect x="805.00" y="325.9" width="3" height="1.6" fill="#0c7d22"/>
<rect x="810.00" y="300.1" width="1" height="22.6" fill="#0c7d22"/>
<rect x="809.00" y="307.4" width="3" height="14.5" fill="#0c7d22"/>
<rect x="814.00" y="301.0" width="1" height="13.8" fill="#dc2340"/>
<rect x="813.00" y="301.7" width="3" height="9.1" fill="#dc2340"/>
<rect x="817.00" y="298.2" width="1" height="12.4" fill="#0c7d22"/>
<rect x="816.00" y="301.7" width="3" height="8.8" fill="#0c7d22"/>
<rect x="821.00" y="299.0" width="1" height="6.4" fill="#0c7d22"/>
<rect x="820.00" y="300.6" width="3" height="4.7" fill="#0c7d22"/>
<rect x="824.00" y="297.4" width="1" height="7.1" fill="#dc2340"/>
<rect x="823.00" y="299.8" width="3" height="1.9" fill="#dc2340"/>
<rect x="828.00" y="300.0" width="1" height="2.5" fill="#dc2340"/>
<rect x="827.00" y="300.6" width="3" height="1.6" fill="#dc2340"/>
<rect x="831.00" y="293.5" width="1" height="9.1" fill="#0c7d22"/>
<rect x="830.00" y="295.0" width="3" height="6.7" fill="#0c7d22"/>
<rect x="835.00" y="289.5" width="1" height="7.1" fill="#0c7d22"/>
<rect x="834.00" y="293.1" width="3" height="2.7" fill="#0c7d22"/>
<rect x="838.00" y="291.6" width="1" height="4.7" fill="#dc2340"/>
<rect x="837.00" y="292.7" width="3" height="2.0" fill="#dc2340"/>
<rect x="842.00" y="292.0" width="1" height="5.6" fill="#dc2340"/>
<rect x="841.00" y="292.2" width="3" height="5.2" fill="#dc2340"/>
<rect x="845.00" y="297.2" width="1" height="10.8" fill="#dc2340"/>
<rect x="844.00" y="297.4" width="3" height="9.0" fill="#dc2340"/>
<rect x="849.00" y="296.6" width="1" height="9.9" fill="#0c7d22"/>
<rect x="848.00" y="301.0" width="3" height="5.4" fill="#0c7d22"/>
<rect x="852.00" y="276.9" width="1" height="31.6" fill="#0c7d22"/>
<rect x="851.00" y="278.9" width="3" height="26.4" fill="#0c7d22"/>
<rect x="856.00" y="274.5" width="1" height="10.3" fill="#dc2340"/>
<rect x="855.00" y="278.0" width="3" height="6.3" fill="#dc2340"/>
<rect x="859.00" y="278.4" width="1" height="7.2" fill="#0c7d22"/>
<rect x="858.00" y="283.7" width="3" height="1.9" fill="#0c7d22"/>
<rect x="863.00" y="279.2" width="1" height="7.1" fill="#dc2340"/>
<rect x="862.00" y="280.8" width="3" height="4.8" fill="#dc2340"/>
<rect x="866.00" y="280.0" width="1" height="7.1" fill="#dc2340"/>
<rect x="865.00" y="282.1" width="3" height="4.2" fill="#dc2340"/>
<rect x="870.00" y="283.7" width="1" height="6.6" fill="#dc2340"/>
<rect x="869.00" y="285.2" width="3" height="3.8" fill="#dc2340"/>
<rect x="873.00" y="287.5" width="1" height="6.2" fill="#dc2340"/>
<rect x="872.00" y="287.8" width="3" height="5.8" fill="#dc2340"/>
<rect x="877.00" y="292.3" width="1" height="5.7" fill="#dc2340"/>
<rect x="876.00" y="292.5" width="3" height="5.3" fill="#dc2340"/>
<rect x="880.00" y="295.3" width="1" height="12.7" fill="#dc2340"/>
<rect x="879.00" y="295.5" width="3" height="12.4" fill="#dc2340"/>
<rect x="884.00" y="303.8" width="1" height="4.7" fill="#dc2340"/>
<rect x="883.00" y="306.8" width="3" height="1.2" fill="#dc2340"/>
<rect x="887.00" y="300.2" width="1" height="9.5" fill="#0c7d22"/>
<rect x="886.00" y="307.4" width="3" height="2.3" fill="#0c7d22"/>
<rect x="891.00" y="301.0" width="1" height="5.8" fill="#0c7d22"/>
<rect x="890.00" y="301.4" width="3" height="5.1" fill="#0c7d22"/>
<rect x="894.00" y="298.2" width="1" height="5.2" fill="#dc2340"/>
<rect x="893.00" y="301.1" width="3" height="1.2" fill="#dc2340"/>
<rect x="898.00" y="300.2" width="1" height="9.5" fill="#dc2340"/>
<rect x="897.00" y="301.1" width="3" height="8.0" fill="#dc2340"/>
<rect x="901.00" y="298.5" width="1" height="11.2" fill="#0c7d22"/>
<rect x="900.00" y="303.2" width="3" height="6.2" fill="#0c7d22"/>
<rect x="905.00" y="291.1" width="1" height="12.7" fill="#0c7d22"/>
<rect x="904.00" y="297.3" width="3" height="6.1" fill="#0c7d22"/>
<rect x="908.00" y="293.1" width="1" height="20.5" fill="#dc2340"/>
<rect x="907.00" y="296.3" width="3" height="16.4" fill="#dc2340"/>
<rect x="912.00" y="310.3" width="1" height="7.1" fill="#dc2340"/>
<rect x="911.00" y="312.9" width="3" height="3.6" fill="#dc2340"/>
<rect x="915.00" y="291.9" width="1" height="16.0" fill="#0c7d22"/>
<rect x="914.00" y="301.1" width="3" height="5.1" fill="#0c7d22"/>
</g>
<g stroke-linejoin="round" stroke-linecap="round">
<text x="51" y="298.2" font-size="43" textLength="242.5" lengthAdjust="spacingAndGlyphs" fill="#fdeee3" stroke="#fdeee3" stroke-width="3.2" opacity="0.95">economies</text>
<text x="51" y="298.2" font-size="43" textLength="242.5" lengthAdjust="spacingAndGlyphs" fill="#fbcfae" stroke="#fbcfae" stroke-width="0.5" opacity="0.95">economies</text>
<text x="297.5" y="298.2" font-size="43" textLength="91.5" lengthAdjust="spacingAndGlyphs" fill="#f0f0f0" stroke="#f0f0f0" stroke-width="2.2" opacity="0.95">.com</text>
<text x="297.5" y="298.2" font-size="43" textLength="91.5" lengthAdjust="spacingAndGlyphs" fill="#dcdcdc">.com</text>
<text x="90" y="337.4" font-size="38.5" font-weight="bold" fill="#f0f0f0" stroke="#f0f0f0" stroke-width="3" opacity="0.95">F</text>
<text x="110.5" y="337.4" font-size="38.5" textLength="27" lengthAdjust="spacingAndGlyphs" fill="#f0f0f0" stroke="#f0f0f0" stroke-width="3" opacity="0.95">x</text>
<text x="140.5" y="337.4" font-size="38.5" font-weight="bold" textLength="205.5" lengthAdjust="spacingAndGlyphs" fill="#f0f0f0" stroke="#f0f0f0" stroke-width="3" opacity="0.95">NewsToday</text>
<text x="90" y="337.4" font-size="38.5" font-weight="bold" fill="#d7d7d7">F</text>
<text x="110.5" y="337.4" font-size="38.5" textLength="27" lengthAdjust="spacingAndGlyphs" fill="#e4cccd">x</text>
<text x="140.5" y="337.4" font-size="38.5" font-weight="bold" textLength="205.5" lengthAdjust="spacingAndGlyphs" fill="#d7d7d7">NewsToday</text>
</g>
<rect x="0" y="359" width="1197" height="1" fill="#7c7c7c"/>
<rect x="0" y="429" width="1197" height="1" fill="#7c7c7c"/>
<g>
<rect x="1.00" y="417.7" width="2" height="6.3" fill="#ee1414"/>
<rect x="4.00" y="418.8" width="2" height="5.2" fill="#ee1414"/>
<rect x="8.00" y="419.8" width="2" height="4.2" fill="#b01c1c"/>
<rect x="11.00" y="413.8" width="2" height="10.2" fill="#ee1414"/>
<rect x="15.00" y="418.5" width="2" height="5.5" fill="#ee1414"/>
<rect x="18.00" y="416.8" width="2" height="7.2" fill="#ee1414"/>
<rect x="22.00" y="417.1" width="2" height="6.9" fill="#62c81e"/>
<rect x="25.00" y="418.8" width="2" height="5.2" fill="#ee1414"/>
<rect x="29.00" y="418.8" width="2" height="5.2" fill="#62c81e"/>
<rect x="32.00" y="421.0" width="2" height="3.0" fill="#ee1414"/>
<rect x="36.00" y="418.8" width="2" height="5.2" fill="#ee1414"/>
<rect x="39.00" y="421.0" width="2" height="3.0" fill="#62c81e"/>
<rect x="43.00" y="419.8" width="2" height="4.2" fill="#62c81e"/>
<rect x="46.00" y="417.1" width="2" height="6.9" fill="#62c81e"/>
<rect x="50.00" y="421.0" width="2" height="3.0" fill="#ee1414"/>
<rect x="53.00" y="415.1" width="2" height="8.9" fill="#62c81e"/>
<rect x="57.00" y="418.8" width="2" height="5.2" fill="#ee1414"/>
<rect x="60.00" y="418.8" width="2" height="5.2" fill="#ee1414"/>
<rect x="64.00" y="413.8" width="2" height="10.2" fill="#ee1414"/>
<rect x="68.00" y="417.1" width="2" height="6.9" fill="#ee1414"/>
<rect x="71.00" y="419.8" width="2" height="4.2" fill="#ee1414"/>
<rect x="75.00" y="419.8" width="2" height="4.2" fill="#ee1414"/>
<rect x="78.00" y="419.8" width="2" height="4.2" fill="#62c81e"/>
<rect x="82.00" y="418.8" width="2" height="5.2" fill="#ee1414"/>
<rect x="85.00" y="421.0" width="2" height="3.0" fill="#ee1414"/>
<rect x="89.00" y="415.1" width="2" height="8.9" fill="#62c81e"/>
<rect x="92.00" y="419.8" width="2" height="4.2" fill="#ee1414"/>
<rect x="96.00" y="418.8" width="2" height="5.2" fill="#ee1414"/>
<rect x="99.00" y="417.1" width="2" height="6.9" fill="#62c81e"/>
<rect x="103.00" y="418.8" width="2" height="5.2" fill="#62c81e"/>
<rect x="106.00" y="411.0" width="2" height="13.0" fill="#62c81e"/>
<rect x="110.00" y="416.0" width="2" height="8.0" fill="#ee1414"/>
<rect x="113.00" y="418.8" width="2" height="5.2" fill="#ee1414"/>
<rect x="117.00" y="419.8" width="2" height="4.2" fill="#62c81e"/>
<rect x="120.00" y="418.2" width="2" height="5.8" fill="#62c81e"/>
<rect x="124.00" y="418.2" width="2" height="5.8" fill="#62c81e"/>
<rect x="127.00" y="418.8" width="2" height="5.2" fill="#ee1414"/>
<rect x="131.00" y="416.0" width="2" height="8.0" fill="#b01c1c"/>
<rect x="134.00" y="411.0" width="2" height="13.0" fill="#62c81e"/>
<rect x="138.00" y="416.8" width="2" height="7.2" fill="#62c81e"/>
<rect x="141.00" y="405.1" width="2" height="18.9" fill="#62c81e"/>
<rect x="145.00" y="374.2" width="2" height="49.8" fill="#62c81e"/>
<rect x="148.00" y="393.1" width="2" height="30.9" fill="#ee1414"/>
<rect x="152.00" y="406.0" width="2" height="18.0" fill="#ee1414"/>
<rect x="155.00" y="413.1" width="2" height="10.9" fill="#b01c1c"/>
<rect x="159.00" y="415.1" width="2" height="8.9" fill="#b01c1c"/>
<rect x="162.00" y="417.1" width="2" height="6.9" fill="#62c81e"/>
<rect x="166.00" y="415.1" width="2" height="8.9" fill="#62c81e"/>
<rect x="169.00" y="418.2" width="2" height="5.8" fill="#ee1414"/>
<rect x="173.00" y="415.1" width="2" height="8.9" fill="#62c81e"/>
<rect x="176.00" y="417.1" width="2" height="6.9" fill="#ee1414"/>
<rect x="180.00" y="416.0" width="2" height="8.0" fill="#ee1414"/>
<rect x="183.00" y="412.1" width="2" height="11.9" fill="#62c81e"/>
<rect x="187.00" y="413.8" width="2" height="10.2" fill="#62c81e"/>
<rect x="191.00" y="418.2" width="2" height="5.8" fill="#62c81e"/>
<rect x="194.00" y="415.3" width="2" height="8.7" fill="#62c81e"/>
<rect x="198.00" y="417.1" width="2" height="6.9" fill="#b01c1c"/>
<rect x="201.00" y="419.3" width="2" height="4.7" fill="#62c81e"/>
<rect x="205.00" y="418.2" width="2" height="5.8" fill="#62c81e"/>
<rect x="208.00" y="417.1" width="2" height="6.9" fill="#ee1414"/>
<rect x="212.00" y="419.3" width="2" height="4.7" fill="#62c81e"/>
<rect x="215.00" y="420.2" width="2" height="3.8" fill="#62c81e"/>
<rect x="219.00" y="419.8" width="2" height="4.2" fill="#ee1414"/>
<rect x="222.00" y="418.2" width="2" height="5.8" fill="#ee1414"/>
<rect x="226.00" y="417.7" width="2" height="6.3" fill="#62c81e"/>
<rect x="229.00" y="416.8" width="2" height="7.2" fill="#62c81e"/>
<rect x="233.00" y="416.8" width="2" height="7.2" fill="#62c81e"/>
<rect x="236.00" y="413.1" width="2" height="10.9" fill="#62c81e"/>
<rect x="240.00" y="416.8" width="2" height="7.2" fill="#ee1414"/>
<rect x="243.00" y="411.0" width="2" height="13.0" fill="#62c81e"/>
<rect x="247.00" y="418.2" width="2" height="5.8" fill="#ee1414"/>
<rect x="250.00" y="419.8" width="2" height="4.2" fill="#62c81e"/>
<rect x="254.00" y="418.2" width="2" height="5.8" fill="#62c81e"/>
<rect x="257.00" y="416.0" width="2" height="8.0" fill="#ee1414"/>
<rect x="261.00" y="418.8" width="2" height="5.2" fill="#62c81e"/>
<rect x="264.00" y="416.8" width="2" height="7.2" fill="#ee1414"/>
<rect x="268.00" y="418.2" width="2" height="5.8" fill="#62c81e"/>
<rect x="271.00" y="418.8" width="2" height="5.2" fill="#62c81e"/>
<rect x="275.00" y="416.0" width="2" height="8.0" fill="#62c81e"/>
<rect x="278.00" y="419.8" width="2" height="4.2" fill="#ee1414"/>
<rect x="282.00" y="418.2" width="2" height="5.8" fill="#ee1414"/>
<rect x="285.00" y="419.8" width="2" height="4.2" fill="#62c81e"/>
<rect x="289.00" y="417.1" width="2" height="6.9" fill="#b01c1c"/>
<rect x="292.00" y="418.8" width="2" height="5.2" fill="#62c81e"/>
<rect x="296.00" y="419.3" width="2" height="4.7" fill="#62c81e"/>
<rect x="299.00" y="418.8" width="2" height="5.2" fill="#ee1414"/>
<rect x="303.00" y="417.1" width="2" height="6.9" fill="#b01c1c"/>
<rect x="306.00" y="419.3" width="2" height="4.7" fill="#62c81e"/>
<rect x="310.00" y="420.2" width="2" height="3.8" fill="#ee1414"/>
<rect x="314.00" y="418.8" width="2" height="5.2" fill="#ee1414"/>
<rect x="317.00" y="414.8" width="2" height="9.2" fill="#b01c1c"/>
<rect x="321.00" y="419.8" width="2" height="4.2" fill="#ee1414"/>
<rect x="324.00" y="419.8" width="2" height="4.2" fill="#62c81e"/>
<rect x="328.00" y="420.2" width="2" height="3.8" fill="#62c81e"/>
<rect x="331.00" y="419.3" width="2" height="4.7" fill="#ee1414"/>
<rect x="335.00" y="419.8" width="2" height="4.2" fill="#62c81e"/>
<rect x="338.00" y="420.2" width="2" height="3.8" fill="#ee1414"/>
<rect x="342.00" y="418.2" width="2" height="5.8" fill="#ee1414"/>
<rect x="345.00" y="418.8" width="2" height="5.2" fill="#ee1414"/>
<rect x="349.00" y="411.0" width="2" height="13.0" fill="#b01c1c"/>
<rect x="352.00" y="414.8" width="2" height="9.2" fill="#ee1414"/>
<rect x="356.00" y="418.2" width="2" height="5.8" fill="#62c81e"/>
<rect x="359.00" y="416.8" width="2" height="7.2" fill="#62c81e"/>
<rect x="363.00" y="414.8" width="2" height="9.2" fill="#b01c1c"/>
<rect x="366.00" y="413.8" width="2" height="10.2" fill="#62c81e"/>
<rect x="370.00" y="414.8" width="2" height="9.2" fill="#62c81e"/>
<rect x="373.00" y="421.0" width="2" height="3.0" fill="#62c81e"/>
<rect x="377.00" y="419.8" width="2" height="4.2" fill="#ee1414"/>
<rect x="380.00" y="416.0" width="2" height="8.0" fill="#ee1414"/>
<rect x="384.00" y="418.8" width="2" height="5.2" fill="#62c81e"/>
<rect x="387.00" y="419.3" width="2" height="4.7" fill="#ee1414"/>
<rect x="391.00" y="418.8" width="2" height="5.2" fill="#62c81e"/>
<rect x="394.00" y="418.2" width="2" height="5.8" fill="#ee1414"/>
<rect x="398.00" y="417.1" width="2" height="6.9" fill="#62c81e"/>
<rect x="401.00" y="419.3" width="2" height="4.7" fill="#ee1414"/>
<rect x="405.00" y="420.2" width="2" height="3.8" fill="#ee1414"/>
<rect x="408.00" y="419.8" width="2" height="4.2" fill="#ee1414"/>
<rect x="412.00" y="418.8" width="2" height="5.2" fill="#62c81e"/>
<rect x="415.00" y="419.8" width="2" height="4.2" fill="#ee1414"/>
<rect x="419.00" y="418.8" width="2" height="5.2" fill="#ee1414"/>
<rect x="422.00" y="419.8" width="2" height="4.2" fill="#62c81e"/>
<rect x="426.00" y="421.0" width="2" height="3.0" fill="#62c81e"/>
<rect x="429.00" y="416.8" width="2" height="7.2" fill="#62c81e"/>
<rect x="433.00" y="418.8" width="2" height="5.2" fill="#ee1414"/>
<rect x="436.00" y="420.2" width="2" height="3.8" fill="#62c81e"/>
<rect x="440.00" y="419.8" width="2" height="4.2" fill="#ee1414"/>
<rect x="444.00" y="420.2" width="2" height="3.8" fill="#62c81e"/>
<rect x="447.00" y="419.8" width="2" height="4.2" fill="#62c81e"/>
<rect x="451.00" y="413.8" width="2" height="10.2" fill="#62c81e"/>
<rect x="454.00" y="419.8" width="2" height="4.2" fill="#ee1414"/>
<rect x="458.00" y="419.8" width="2" height="4.2" fill="#ee1414"/>
<rect x="461.00" y="420.2" width="2" height="3.8" fill="#ee1414"/>
<rect x="465.00" y="421.0" width="2" height="3.0" fill="#ee1414"/>
<rect x="468.00" y="419.3" width="2" height="4.7" fill="#62c81e"/>
<rect x="472.00" y="419.8" width="2" height="4.2" fill="#ee1414"/>
<rect x="475.00" y="408.1" width="2" height="15.9" fill="#b01c1c"/>
<rect x="479.00" y="416.0" width="2" height="8.0" fill="#b01c1c"/>
<rect x="482.00" y="418.2" width="2" height="5.8" fill="#ee1414"/>
<rect x="486.00" y="416.8" width="2" height="7.2" fill="#62c81e"/>
<rect x="489.00" y="415.1" width="2" height="8.9" fill="#62c81e"/>
<rect x="493.00" y="414.8" width="2" height="9.2" fill="#b01c1c"/>
<rect x="496.00" y="417.1" width="2" height="6.9" fill="#62c81e"/>
<rect x="500.00" y="418.5" width="2" height="5.5" fill="#ee1414"/>
<rect x="503.00" y="417.1" width="2" height="6.9" fill="#b01c1c"/>
<rect x="507.00" y="418.2" width="2" height="5.8" fill="#62c81e"/>
<rect x="510.00" y="419.8" width="2" height="4.2" fill="#ee1414"/>
<rect x="514.00" y="418.2" width="2" height="5.8" fill="#62c81e"/>
<rect x="517.00" y="419.3" width="2" height="4.7" fill="#62c81e"/>
<rect x="521.00" y="419.8" width="2" height="4.2" fill="#ee1414"/>
<rect x="524.00" y="418.2" width="2" height="5.8" fill="#ee1414"/>
<rect x="528.00" y="420.2" width="2" height="3.8" fill="#62c81e"/>
<rect x="531.00" y="419.3" width="2" height="4.7" fill="#62c81e"/>
<rect x="535.00" y="418.8" width="2" height="5.2" fill="#62c81e"/>
<rect x="538.00" y="411.0" width="2" height="13.0" fill="#62c81e"/>
<rect x="542.00" y="418.2" width="2" height="5.8" fill="#62c81e"/>
<rect x="545.00" y="419.8" width="2" height="4.2" fill="#62c81e"/>
<rect x="549.00" y="418.8" width="2" height="5.2" fill="#b01c1c"/>
<rect x="552.00" y="418.8" width="2" height="5.2" fill="#ee1414"/>
<rect x="556.00" y="418.8" width="2" height="5.2" fill="#62c81e"/>
<rect x="559.00" y="417.1" width="2" height="6.9" fill="#62c81e"/>
<rect x="563.00" y="419.8" width="2" height="4.2" fill="#ee1414"/>
<rect x="567.00" y="420.2" width="2" height="3.8" fill="#ee1414"/>
<rect x="570.00" y="419.8" width="2" height="4.2" fill="#62c81e"/>
<rect x="574.00" y="419.8" width="2" height="4.2" fill="#62c81e"/>
<rect x="577.00" y="421.0" width="2" height="3.0" fill="#ee1414"/>
<rect x="581.00" y="418.2" width="2" height="5.8" fill="#62c81e"/>
<rect x="584.00" y="418.4" width="2" height="5.6" fill="#62c81e"/>
<rect x="588.00" y="420.0" width="2" height="4.0" fill="#ee1414"/>
<rect x="591.00" y="419.8" width="2" height="4.2" fill="#62c81e"/>
<rect x="595.00" y="419.8" width="2" height="4.2" fill="#ee1414"/>
<rect x="598.00" y="419.8" width="2" height="4.2" fill="#ee1414"/>
<rect x="602.00" y="418.8" width="2" height="5.2" fill="#ee1414"/>
<rect x="605.00" y="421.0" width="2" height="3.0" fill="#62c81e"/>
<rect x="609.00" y="420.2" width="2" height="3.8" fill="#62c81e"/>
<rect x="612.00" y="420.2" width="2" height="3.8" fill="#62c81e"/>
<rect x="616.00" y="420.2" width="2" height="3.8" fill="#62c81e"/>
<rect x="619.00" y="421.0" width="2" height="3.0" fill="#ee1414"/>
<rect x="623.00" y="419.8" width="2" height="4.2" fill="#ee1414"/>
<rect x="626.00" y="420.2" width="2" height="3.8" fill="#ee1414"/>
<rect x="630.00" y="419.8" width="2" height="4.2" fill="#ee1414"/>
<rect x="633.00" y="420.2" width="2" height="3.8" fill="#ee1414"/>
<rect x="637.00" y="420.5" width="2" height="3.5" fill="#ee1414"/>
<rect x="640.00" y="420.5" width="2" height="3.5" fill="#ee1414"/>
<rect x="644.00" y="420.5" width="2" height="3.5" fill="#ee1414"/>
<rect x="647.00" y="419.8" width="2" height="4.2" fill="#62c81e"/>
<rect x="651.00" y="421.0" width="2" height="3.0" fill="#ee1414"/>
<rect x="654.00" y="421.0" width="2" height="3.0" fill="#ee1414"/>
<rect x="658.00" y="420.5" width="2" height="3.5" fill="#ee1414"/>
<rect x="661.00" y="421.0" width="2" height="3.0" fill="#ee1414"/>
<rect x="665.00" y="419.8" width="2" height="4.2" fill="#ee1414"/>
<rect x="668.00" y="420.5" width="2" height="3.5" fill="#ee1414"/>
<rect x="672.00" y="421.0" width="2" height="3.0" fill="#62c81e"/>
<rect x="675.00" y="421.5" width="2" height="2.5" fill="#ee1414"/>
<rect x="679.00" y="421.0" width="2" height="3.0" fill="#ee1414"/>
<rect x="682.00" y="421.0" width="2" height="3.0" fill="#62c81e"/>
<rect x="686.00" y="421.0" width="2" height="3.0" fill="#ee1414"/>
<rect x="690.00" y="420.2" width="2" height="3.8" fill="#62c81e"/>
<rect x="693.00" y="419.8" width="2" height="4.2" fill="#ee1414"/>
<rect x="697.00" y="419.8" width="2" height="4.2" fill="#ee1414"/>
<rect x="700.00" y="419.8" width="2" height="4.2" fill="#ee1414"/>
<rect x="704.00" y="419.3" width="2" height="4.7" fill="#62c81e"/>
<rect x="707.00" y="417.1" width="2" height="6.9" fill="#62c81e"/>
<rect x="711.00" y="418.8" width="2" height="5.2" fill="#62c81e"/>
<rect x="714.00" y="421.0" width="2" height="3.0" fill="#ee1414"/>
<rect x="718.00" y="418.8" width="2" height="5.2" fill="#ee1414"/>
<rect x="721.00" y="419.8" width="2" height="4.2" fill="#62c81e"/>
<rect x="725.00" y="421.0" width="2" height="3.0" fill="#ee1414"/>
<rect x="728.00" y="420.2" width="2" height="3.8" fill="#62c81e"/>
<rect x="732.00" y="420.2" width="2" height="3.8" fill="#ee1414"/>
<rect x="735.00" y="419.8" width="2" height="4.2" fill="#62c81e"/>
<rect x="739.00" y="419.8" width="2" height="4.2" fill="#ee1414"/>
<rect x="742.00" y="420.2" width="2" height="3.8" fill="#62c81e"/>
<rect x="746.00" y="419.8" width="2" height="4.2" fill="#ee1414"/>
<rect x="749.00" y="421.0" width="2" height="3.0" fill="#ee1414"/>
<rect x="753.00" y="420.5" width="2" height="3.5" fill="#62c81e"/>
<rect x="756.00" y="419.8" width="2" height="4.2" fill="#62c81e"/>
<rect x="760.00" y="418.8" width="2" height="5.2" fill="#ee1414"/>
<rect x="763.00" y="420.5" width="2" height="3.5" fill="#ee1414"/>
<rect x="767.00" y="420.5" width="2" height="3.5" fill="#ee1414"/>
<rect x="770.00" y="420.2" width="2" height="3.8" fill="#ee1414"/>
<rect x="774.00" y="419.3" width="2" height="4.7" fill="#ee1414"/>
<rect x="777.00" y="420.2" width="2" height="3.8" fill="#ee1414"/>
<rect x="781.00" y="419.8" width="2" height="4.2" fill="#ee1414"/>
<rect x="784.00" y="421.0" width="2" height="3.0" fill="#ee1414"/>
<rect x="788.00" y="421.0" width="2" height="3.0" fill="#62c81e"/>
<rect x="791.00" y="419.3" width="2" height="4.7" fill="#62c81e"/>
<rect x="795.00" y="418.8" width="2" height="5.2" fill="#62c81e"/>
<rect x="798.00" y="416.0" width="2" height="8.0" fill="#62c81e"/>
<rect x="802.00" y="416.0" width="2" height="8.0" fill="#ee1414"/>
<rect x="805.00" y="418.8" width="2" height="5.2" fill="#62c81e"/>
<rect x="809.00" y="415.1" width="2" height="8.9" fill="#62c81e"/>
<rect x="813.00" y="418.8" width="2" height="5.2" fill="#ee1414"/>
<rect x="816.00" y="418.8" width="2" height="5.2" fill="#62c81e"/>
<rect x="820.00" y="419.3" width="2" height="4.7" fill="#62c81e"/>
<rect x="823.00" y="418.8" width="2" height="5.2" fill="#ee1414"/>
<rect x="827.00" y="419.8" width="2" height="4.2" fill="#ee1414"/>
<rect x="830.00" y="418.8" width="2" height="5.2" fill="#62c81e"/>
<rect x="834.00" y="418.8" width="2" height="5.2" fill="#62c81e"/>
<rect x="837.00" y="420.2" width="2" height="3.8" fill="#ee1414"/>
<rect x="841.00" y="419.8" width="2" height="4.2" fill="#ee1414"/>
<rect x="844.00" y="418.2" width="2" height="5.8" fill="#ee1414"/>
<rect x="848.00" y="419.8" width="2" height="4.2" fill="#62c81e"/>
<rect x="851.00" y="416.0" width="2" height="8.0" fill="#62c81e"/>
<rect x="855.00" y="417.1" width="2" height="6.9" fill="#b01c1c"/>
<rect x="858.00" y="419.8" width="2" height="4.2" fill="#62c81e"/>
<rect x="862.00" y="419.8" width="2" height="4.2" fill="#ee1414"/>
<rect x="865.00" y="418.8" width="2" height="5.2" fill="#ee1414"/>
<rect x="869.00" y="419.8" width="2" height="4.2" fill="#ee1414"/>
<rect x="872.00" y="418.8" width="2" height="5.2" fill="#ee1414"/>
<rect x="876.00" y="420.2" width="2" height="3.8" fill="#ee1414"/>
<rect x="879.00" y="418.8" width="2" height="5.2" fill="#ee1414"/>
<rect x="883.00" y="419.8" width="2" height="4.2" fill="#ee1414"/>
<rect x="886.00" y="420.5" width="2" height="3.5" fill="#62c81e"/>
<rect x="890.00" y="420.2" width="2" height="3.8" fill="#62c81e"/>
<rect x="893.00" y="420.5" width="2" height="3.5" fill="#ee1414"/>
<rect x="897.00" y="419.8" width="2" height="4.2" fill="#ee1414"/>
<rect x="900.00" y="419.8" width="2" height="4.2" fill="#62c81e"/>
<rect x="904.00" y="418.8" width="2" height="5.2" fill="#62c81e"/>
<rect x="907.00" y="418.8" width="2" height="5.2" fill="#ee1414"/>
<rect x="911.00" y="418.8" width="2" height="5.2" fill="#ee1414"/>
<rect x="914.00" y="411.5" width="2" height="12.5" fill="#62c81e"/>
</g>
<path d="M2.5,459.9 L3.5,460.1 L4.5,460.6 L5.5,461.3 L6.5,462.3 L7.5,463.5 L8.5,464.9 L9.5,466.4 L10.5,467.9 L11.5,469.0 L12.5,469.9 L13.5,470.7 L14.5,471.7 L15.5,472.6 L16.5,473.7 L17.5,474.8 L18.5,476.0 L19.5,477.0 L20.5,478.0 L21.5,478.9 L22.5,479.8 L23.5,480.7 L24.5,481.5 L25.5,482.2 L26.5,482.8 L27.5,483.2 L28.5,483.6 L29.5,484.1 L30.5,484.5 L31.5,484.9 L32.5,485.1 L33.5,485.3 L34.5,485.2 L35.5,485.1 L36.5,485.0 L37.5,484.8 L38.5,484.7 L39.5,484.5 L40.5,484.3 L41.5,484.1 L42.5,483.8 L43.5,483.4 L44.5,482.6 L45.5,481.4 L46.5,480.1 L47.5,478.7 L48.5,477.4 L49.5,475.9 L50.5,474.0 L51.5,472.1 L52.5,470.8 L53.5,470.3 L54.5,470.0 L55.5,469.8 L56.5,469.6 L57.5,469.6 L58.5,469.9 L59.5,470.3 L60.5,470.9 L61.5,471.6 L62.5,472.3 L63.5,473.1 L64.5,474.3 L65.5,475.9 L66.5,477.8 L67.5,479.4 L68.5,480.5 L69.5,481.5 L70.5,482.5 L71.5,483.3 L72.5,483.7 L73.5,483.9 L74.5,484.0 L75.5,484.2 L76.5,484.4 L77.5,484.5 L78.5,484.6 L79.5,484.7 L80.5,484.6 L81.5,484.5 L82.5,484.4 L83.5,484.3 L84.5,484.3 L85.5,484.2 L86.5,484.0 L87.5,483.9 L88.5,483.7 L89.5,483.4 L90.5,483.0 L91.5,482.5 L92.5,482.1 L93.5,481.6 L94.5,481.0 L95.5,480.4 L96.5,479.6 L97.5,478.7 L98.5,477.7 L99.5,476.7 L100.5,475.6 L101.5,474.4 L102.5,472.9 L103.5,471.3 L104.5,469.8 L105.5,468.4 L106.5,467.2 L107.5,466.0 L108.5,464.8 L109.5,463.8 L110.5,463.0 L111.5,462.4 L112.5,461.8 L113.5,461.3 L114.5,460.8 L115.5,460.3 L116.5,459.8 L117.5,459.4 L118.5,459.0 L119.5,458.5 L120.5,457.9 L121.5,457.0 L122.5,456.0 L123.5,455.0 L124.5,454.2 L125.5,453.8 L126.5,453.7 L127.5,453.6 L128.5,453.5 L129.5,453.4 L130.5,453.3 L131.5,453.1 L132.5,453.0 L133.5,452.9 L134.5,452.7 L135.5,452.4 L136.5,451.9 L137.5,451.0 L138.5,450.1 L139.5,449.2 L140.5,448.5 L141.5,447.9 L142.5,447.3 L143.5,446.8 L144.5,446.4 L145.5,446.4 L146.5,446.6 L147.5,446.8 L148.5,446.9 L149.5,447.2 L150.5,448.1 L151.5,449.4 L152.5,450.8 L153.5,451.9 L154.5,452.6 L155.5,453.2 L156.5,453.8 L157.5,454.4 L158.5,455.0 L159.5,455.5 L160.5,456.1 L161.5,456.6 L162.5,457.0 L163.5,457.4 L164.5,457.5 L165.5,457.7 L166.5,457.9 L167.5,458.1 L168.5,458.2 L169.5,458.2 L170.5,458.2 L171.5,458.2 L172.5,458.1 L173.5,458.1 L174.5,458.1 L175.5,458.1 L176.5,458.1 L177.5,458.1 L178.5,458.3 L179.5,458.7 L180.5,459.1 L181.5,459.7 L182.5,460.1 L183.5,460.6 L184.5,460.9 L185.5,461.3 L186.5,461.7 L187.5,462.2 L188.5,462.6 L189.5,462.9 L190.5,463.1 L191.5,463.2 L192.5,463.4 L193.5,463.4 L194.5,463.1 L195.5,462.6 L196.5,461.8 L197.5,461.0 L198.5,460.4 L199.5,459.8 L200.5,459.2 L201.5,458.5 L202.5,457.8 L203.5,457.4 L204.5,457.2 L205.5,457.4 L206.5,457.8 L207.5,458.3 L208.5,458.9 L209.5,459.5 L210.5,460.1 L211.5,460.6 L212.5,461.1 L213.5,461.5 L214.5,462.0 L215.5,462.6 L216.5,463.2 L217.5,463.7 L218.5,464.3 L219.5,464.9 L220.5,465.6 L221.5,466.3 L222.5,467.0 L223.5,467.5 L224.5,467.8 L225.5,468.0 L226.5,468.1 L227.5,468.1 L228.5,468.2 L229.5,468.2 L230.5,468.1 L231.5,467.4 L232.5,466.4 L233.5,465.1 L234.5,463.9 L235.5,463.0 L236.5,462.0 L237.5,461.0 L238.5,459.9 L239.5,458.9 L240.5,458.2 L241.5,457.8 L242.5,457.7 L243.5,457.8 L244.5,457.7 L245.5,457.7 L246.5,457.6 L247.5,457.4 L248.5,457.2 L249.5,457.0 L250.5,456.7 L251.5,456.5 L252.5,456.2 L253.5,455.9 L254.5,455.6 L255.5,455.2 L256.5,454.8 L257.5,454.2 L258.5,453.6 L259.5,453.0 L260.5,452.7 L261.5,452.6 L262.5,452.8 L263.5,453.3 L264.5,454.0 L265.5,454.6 L266.5,455.2 L267.5,455.5 L268.5,455.6 L269.5,455.4 L270.5,455.1 L271.5,454.9 L272.5,454.7 L273.5,454.6 L274.5,454.4 L275.5,454.2 L276.5,454.0 L277.5,453.9 L278.5,453.9 L279.5,454.4 L280.5,455.6 L281.5,457.3 L282.5,459.2 L283.5,461.8 L284.5,464.7 L285.5,467.6 L286.5,470.2 L287.5,472.7 L288.5,474.3 L289.5,475.2 L290.5,475.7 L291.5,476.2 L292.5,476.5 L293.5,476.5 L294.5,476.1 L295.5,475.7 L296.5,475.3 L297.5,475.0 L298.5,474.7 L299.5,474.6 L300.5,474.7 L301.5,475.1 L302.5,475.9 L303.5,477.0 L304.5,478.1 L305.5,479.0 L306.5,479.7 L307.5,480.2 L308.5,480.5 L309.5,480.9 L310.5,481.3 L311.5,481.7 L312.5,482.0 L313.5,482.3 L314.5,482.5 L315.5,482.7 L316.5,482.8 L317.5,483.0 L318.5,483.0 L319.5,482.7 L320.5,482.1 L321.5,481.3 L322.5,480.4 L323.5,479.7 L324.5,479.1 L325.5,478.5 L326.5,477.9 L327.5,477.4 L328.5,477.3 L329.5,477.5 L330.5,477.8 L331.5,478.2 L332.5,478.5 L333.5,478.8 L334.5,479.3 L335.5,480.0 L336.5,481.0 L337.5,481.9 L338.5,482.6 L339.5,483.1 L340.5,483.4 L341.5,483.7 L342.5,484.1 L343.5,484.4 L344.5,484.7 L345.5,484.9 L346.5,485.1 L347.5,485.2 L348.5,485.4 L349.5,485.5 L350.5,485.4 L351.5,485.2 L352.5,484.9 L353.5,484.5 L354.5,484.1 L355.5,483.7 L356.5,483.4 L357.5,483.1 L358.5,482.9 L359.5,482.7 L360.5,482.4 L361.5,482.2 L362.5,481.9 L363.5,481.7 L364.5,481.5 L365.5,481.3 L366.5,481.1 L367.5,480.9 L368.5,480.6 L369.5,480.3 L370.5,479.9 L371.5,479.4 L372.5,478.9 L373.5,478.5 L374.5,478.3 L375.5,478.3 L376.5,478.5 L377.5,478.8 L378.5,479.1 L379.5,479.4 L380.5,479.7 L381.5,480.0 L382.5,480.5 L383.5,481.0 L384.5,481.4 L385.5,481.5 L386.5,481.2 L387.5,480.8 L388.5,480.4 L389.5,480.0 L390.5,479.6 L391.5,479.3 L392.5,479.0 L393.5,478.7 L394.5,478.6 L395.5,478.4 L396.5,478.3 L397.5,478.1 L398.5,477.9 L399.5,477.7 L400.5,477.5 L401.5,477.2 L402.5,477.0 L403.5,476.7 L404.5,476.4 L405.5,476.0 L406.5,475.5 L407.5,474.7 L408.5,473.5 L409.5,471.8 L410.5,470.0 L411.5,468.2 L412.5,466.4 L413.5,464.3 L414.5,462.1 L415.5,460.0 L416.5,458.5 L417.5,457.4 L418.5,456.4 L419.5,455.7 L420.5,455.2 L421.5,455.1 L422.5,455.3 L423.5,455.4 L424.5,455.4 L425.5,455.3 L426.5,455.1 L427.5,454.8 L428.5,454.4 L429.5,453.8 L430.5,453.3 L431.5,452.8 L432.5,452.5 L433.5,452.3 L434.5,452.2 L435.5,452.2 L436.5,452.1 L437.5,452.1 L438.5,452.0 L439.5,451.9 L440.5,451.7 L441.5,451.6 L442.5,451.4 L443.5,451.2 L444.5,451.0 L445.5,450.9 L446.5,450.9 L447.5,450.9 L448.5,451.0 L449.5,451.2 L450.5,451.3 L451.5,451.5 L452.5,451.7 L453.5,452.3 L454.5,453.1 L455.5,454.0 L456.5,454.9 L457.5,455.8 L458.5,456.9 L459.5,458.0 L460.5,459.2 L461.5,460.2 L462.5,461.0 L463.5,461.8 L464.5,462.4 L465.5,463.1 L466.5,463.7 L467.5,464.2 L468.5,464.6 L469.5,465.0 L470.5,465.4 L471.5,466.0 L472.5,466.9 L473.5,468.1 L474.5,469.6 L475.5,471.2 L476.5,472.9 L477.5,474.6 L478.5,476.6 L479.5,478.8 L480.5,480.6 L481.5,482.0 L482.5,483.1 L483.5,484.0 L484.5,484.6 L485.5,484.5 L486.5,484.0 L487.5,483.5 L488.5,483.1 L489.5,482.9 L490.5,482.7 L491.5,482.7 L492.5,482.7 L493.5,482.8 L494.5,483.0 L495.5,483.2 L496.5,483.4 L497.5,483.6 L498.5,483.8 L499.5,483.9 L500.5,484.2 L501.5,484.5 L502.5,484.8 L503.5,485.1 L504.5,485.3 L505.5,485.4 L506.5,485.5 L507.5,485.4 L508.5,485.3 L509.5,485.1 L510.5,485.0 L511.5,484.9 L512.5,484.7 L513.5,484.6 L514.5,484.5 L515.5,484.4 L516.5,484.3 L517.5,484.2 L518.5,484.1 L519.5,484.1 L520.5,484.0 L521.5,483.8 L522.5,483.7 L523.5,483.5 L524.5,483.1 L525.5,482.5 L526.5,481.7 L527.5,480.7 L528.5,479.5 L529.5,477.8 L530.5,475.8 L531.5,473.6 L532.5,471.6 L533.5,469.6 L534.5,467.5 L535.5,465.3 L536.5,463.2 L537.5,461.2 L538.5,459.2 L539.5,457.2 L540.5,455.3 L541.5,453.8 L542.5,452.9 L543.5,452.1 L544.5,451.5 L545.5,451.1 L546.5,451.2 L547.5,451.8 L548.5,452.5 L549.5,453.3 L550.5,454.3 L551.5,455.9 L552.5,458.3 L553.5,460.7 L554.5,462.7 L555.5,464.3 L556.5,465.5 L557.5,466.5 L558.5,467.2 L559.5,467.9 L560.5,468.3 L561.5,468.5 L562.5,468.5 L563.5,468.5 L564.5,468.5 L565.5,468.6 L566.5,468.7 L567.5,468.8 L568.5,468.9 L569.5,469.0 L570.5,469.0 L571.5,469.1 L572.5,469.2 L573.5,469.1 L574.5,469.0 L575.5,468.4 L576.5,467.5 L577.5,466.5 L578.5,465.5 L579.5,464.6 L580.5,463.5 L581.5,462.3 L582.5,461.0 L583.5,459.6 L584.5,458.2 L585.5,456.8 L586.5,455.6 L587.5,454.9 L588.5,454.2 L589.5,453.6 L590.5,453.1 L591.5,452.9 L592.5,452.8 L593.5,452.7 L594.5,452.6 L595.5,452.6 L596.5,452.6 L597.5,452.8 L598.5,453.3 L599.5,454.1 L600.5,455.0 L601.5,455.7 L602.5,456.4 L603.5,457.2 L604.5,458.0 L605.5,458.8 L606.5,459.3 L607.5,459.5 L608.5,459.6 L609.5,459.8 L610.5,459.9 L611.5,459.9 L612.5,459.7 L613.5,459.3 L614.5,458.9 L615.5,458.5 L616.5,458.3 L617.5,458.6 L618.5,459.3 L619.5,460.2 L620.5,461.4 L621.5,462.7 L622.5,464.7 L623.5,467.1 L624.5,469.6 L625.5,471.6 L626.5,473.2 L627.5,474.8 L628.5,476.3 L629.5,477.8 L630.5,479.1 L631.5,480.4 L632.5,481.6 L633.5,482.7 L634.5,483.6 L635.5,484.2 L636.5,484.7 L637.5,485.2 L638.5,485.6 L639.5,485.8 L640.5,485.7 L641.5,485.4 L642.5,485.2 L643.5,485.0 L644.5,484.8 L645.5,484.5 L646.5,484.1 L647.5,483.3 L648.5,482.5 L649.5,481.6 L650.5,480.9 L651.5,480.2 L652.5,479.5 L653.5,478.8 L654.5,478.2 L655.5,477.7 L656.5,477.4 L657.5,477.0 L658.5,476.7 L659.5,476.6 L660.5,476.7 L661.5,477.0 L662.5,477.6 L663.5,478.2 L664.5,478.7 L665.5,479.3 L666.5,479.8 L667.5,480.5 L668.5,481.2 L669.5,481.7 L670.5,482.1 L671.5,482.3 L672.5,482.5 L673.5,482.7 L674.5,482.8 L675.5,483.0 L676.5,483.0 L677.5,482.9 L678.5,482.8 L679.5,482.7 L680.5,482.6 L681.5,482.5 L682.5,482.4 L683.5,482.3 L684.5,482.1 L685.5,481.7 L686.5,481.1 L687.5,480.6 L688.5,480.2 L689.5,480.0 L690.5,480.0 L691.5,480.1 L692.5,480.3 L693.5,480.3 L694.5,480.3 L695.5,480.4 L696.5,480.8 L697.5,481.7 L698.5,482.6 L699.5,483.3 L700.5,483.4 L701.5,483.1 L702.5,482.7 L703.5,482.5 L704.5,482.2 L705.5,481.4 L706.5,479.7 L707.5,477.6 L708.5,475.5 L709.5,473.8 L710.5,471.9 L711.5,470.1 L712.5,468.3 L713.5,466.9 L714.5,465.9 L715.5,464.9 L716.5,464.1 L717.5,463.7 L718.5,463.9 L719.5,464.2 L720.5,464.4 L721.5,464.4 L722.5,464.4 L723.5,464.4 L724.5,464.3 L725.5,464.3 L726.5,464.3 L727.5,464.2 L728.5,464.2 L729.5,464.1 L730.5,464.0 L731.5,463.8 L732.5,463.3 L733.5,462.7 L734.5,462.0 L735.5,461.4 L736.5,460.8 L737.5,460.2 L738.5,459.6 L739.5,458.9 L740.5,458.2 L741.5,457.7 L742.5,457.6 L743.5,457.8 L744.5,458.1 L745.5,458.3 L746.5,458.6 L747.5,459.1 L748.5,460.5 L749.5,462.4 L750.5,464.1 L751.5,465.2 L752.5,466.0 L753.5,466.7 L754.5,467.3 L755.5,467.8 L756.5,468.0 L757.5,468.2 L758.5,468.3 L759.5,468.5 L760.5,468.7 L761.5,468.9 L762.5,469.1 L763.5,469.2 L764.5,469.4 L765.5,469.7 L766.5,470.5 L767.5,471.9 L768.5,473.7 L769.5,475.4 L770.5,476.9 L771.5,478.1 L772.5,479.3 L773.5,480.6 L774.5,481.6 L775.5,482.4 L776.5,482.8 L777.5,483.2 L778.5,483.6 L779.5,484.0 L780.5,484.3 L781.5,484.5 L782.5,484.7 L783.5,484.9 L784.5,485.1 L785.5,485.3 L786.5,485.4 L787.5,485.4 L788.5,485.4 L789.5,485.2 L790.5,484.8 L791.5,484.3 L792.5,483.6 L793.5,483.0 L794.5,482.0 L795.5,480.7 L796.5,479.1 L797.5,477.5 L798.5,476.2 L799.5,475.0 L800.5,473.9 L801.5,472.7 L802.5,471.5 L803.5,470.5 L804.5,469.5 L805.5,468.6 L806.5,467.8 L807.5,466.8 L808.5,465.6 L809.5,464.2 L810.5,462.5 L811.5,460.9 L812.5,459.2 L813.5,457.6 L814.5,456.0 L815.5,454.3 L816.5,452.7 L817.5,451.2 L818.5,450.3 L819.5,449.6 L820.5,448.9 L821.5,448.4 L822.5,448.0 L823.5,447.9 L824.5,448.0 L825.5,448.0 L826.5,448.0 L827.5,448.0 L828.5,448.0 L829.5,447.9 L830.5,448.0 L831.5,448.0 L832.5,448.0 L833.5,448.0 L834.5,448.0 L835.5,448.0 L836.5,448.0 L837.5,448.1 L838.5,448.5 L839.5,449.1 L840.5,449.9 L841.5,450.6 L842.5,451.3 L843.5,452.1 L844.5,453.0 L845.5,453.7 L846.5,454.2 L847.5,454.2 L848.5,454.1 L849.5,454.1 L850.5,454.1 L851.5,454.1 L852.5,453.9 L853.5,453.5 L854.5,452.9 L855.5,452.3 L856.5,452.0 L857.5,452.1 L858.5,452.5 L859.5,452.9 L860.5,453.3 L861.5,453.7 L862.5,454.1 L863.5,454.8 L864.5,455.6 L865.5,456.6 L866.5,457.5 L867.5,458.3 L868.5,459.0 L869.5,459.9 L870.5,460.8 L871.5,461.7 L872.5,462.7 L873.5,463.8 L874.5,465.0 L875.5,466.2 L876.5,467.6 L877.5,469.2 L878.5,471.1 L879.5,473.3 L880.5,475.5 L881.5,477.5 L882.5,479.1 L883.5,480.9 L884.5,482.6 L885.5,484.0 L886.5,484.5 L887.5,484.2 L888.5,483.5 L889.5,483.1 L890.5,482.9 L891.5,482.8 L892.5,482.6 L893.5,482.3 L894.5,481.9 L895.5,481.5 L896.5,481.2 L897.5,481.0 L898.5,480.8 L899.5,480.7 L900.5,480.6 L901.5,480.5 L902.5,480.3 L903.5,480.2 L904.5,479.9 L905.5,479.7 L906.5,479.4 L907.5,479.3 L908.5,479.2 L909.5,479.3 L910.5,479.5 L911.5,479.7 L912.5,479.9 L913.5,479.9 L914.5,479.8 L915.5,479.8" fill="none" stroke="#2492f2" stroke-width="2.1" stroke-linejoin="round" stroke-linecap="round"/>
<path d="M2.5,461.1 L3.5,460.6 L4.5,460.3 L5.5,460.2 L6.5,460.2 L7.5,460.3 L8.5,460.8 L9.5,461.5 L10.5,462.3 L11.5,463.4 L12.5,464.7 L13.5,466.1 L14.5,467.2 L15.5,468.3 L16.5,469.2 L17.5,470.2 L18.5,471.2 L19.5,472.2 L20.5,473.3 L21.5,474.4 L22.5,475.5 L23.5,476.5 L24.5,477.5 L25.5,478.4 L26.5,479.4 L27.5,480.2 L28.5,481.0 L29.5,481.7 L30.5,482.3 L31.5,482.8 L32.5,483.3 L33.5,483.8 L34.5,484.2 L35.5,484.6 L36.5,484.8 L37.5,485.0 L38.5,485.0 L39.5,485.0 L40.5,484.9 L41.5,484.8 L42.5,484.7 L43.5,484.5 L44.5,484.3 L45.5,484.1 L46.5,483.8 L47.5,483.3 L48.5,482.4 L49.5,481.4 L50.5,480.3 L51.5,479.1 L52.5,477.8 L53.5,476.1 L54.5,474.4 L55.5,472.9 L56.5,472.0 L57.5,471.3 L58.5,470.7 L59.5,470.3 L60.5,470.0 L61.5,470.0 L62.5,470.2 L63.5,470.6 L64.5,471.0 L65.5,471.6 L66.5,472.2 L67.5,473.0 L68.5,474.3 L69.5,475.9 L70.5,477.4 L71.5,478.6 L72.5,479.7 L73.5,480.9 L74.5,481.8 L75.5,482.6 L76.5,483.0 L77.5,483.3 L78.5,483.7 L79.5,483.9 L80.5,484.2 L81.5,484.4 L82.5,484.5 L83.5,484.5 L84.5,484.5 L85.5,484.5 L86.5,484.4 L87.5,484.3 L88.5,484.3 L89.5,484.2 L90.5,484.1 L91.5,483.9 L92.5,483.7 L93.5,483.4 L94.5,483.0 L95.5,482.6 L96.5,482.2 L97.5,481.7 L98.5,481.1 L99.5,480.5 L100.5,479.7 L101.5,478.9 L102.5,478.0 L103.5,477.0 L104.5,475.9 L105.5,474.6 L106.5,473.2 L107.5,471.8 L108.5,470.4 L109.5,469.2 L110.5,467.9 L111.5,466.6 L112.5,465.5 L113.5,464.5 L114.5,463.7 L115.5,463.0 L116.5,462.3 L117.5,461.7 L118.5,461.2 L119.5,460.6 L120.5,460.1 L121.5,459.7 L122.5,459.2 L123.5,458.7 L124.5,458.0 L125.5,457.1 L126.5,456.2 L127.5,455.4 L128.5,454.8 L129.5,454.4 L130.5,454.2 L131.5,453.9 L132.5,453.7 L133.5,453.5 L134.5,453.4 L135.5,453.2 L136.5,453.1 L137.5,453.0 L138.5,452.7 L139.5,452.4 L140.5,451.8 L141.5,451.0 L142.5,450.2 L143.5,449.5 L144.5,448.9 L145.5,448.2 L146.5,447.6 L147.5,447.1 L148.5,446.9 L149.5,446.9 L150.5,446.9 L151.5,446.9 L152.5,447.0 L153.5,447.5 L154.5,448.4 L155.5,449.5 L156.5,450.5 L157.5,451.3 L158.5,452.0 L159.5,452.7 L160.5,453.4 L161.5,454.0 L162.5,454.6 L163.5,455.2 L164.5,455.8 L165.5,456.3 L166.5,456.7 L167.5,457.0 L168.5,457.3 L169.5,457.5 L170.5,457.7 L171.5,457.9 L172.5,458.0 L173.5,458.1 L174.5,458.1 L175.5,458.1 L176.5,458.1 L177.5,458.1 L178.5,458.1 L179.5,458.1 L180.5,458.1 L181.5,458.2 L182.5,458.4 L183.5,458.8 L184.5,459.2 L185.5,459.6 L186.5,460.0 L187.5,460.3 L188.5,460.7 L189.5,461.2 L190.5,461.6 L191.5,462.0 L192.5,462.3 L193.5,462.6 L194.5,462.9 L195.5,463.1 L196.5,463.2 L197.5,463.2 L198.5,462.8 L199.5,462.3 L200.5,461.8 L201.5,461.2 L202.5,460.7 L203.5,460.0 L204.5,459.4 L205.5,458.7 L206.5,458.2 L207.5,457.8 L208.5,457.7 L209.5,457.8 L210.5,458.1 L211.5,458.5 L212.5,458.9 L213.5,459.4 L214.5,459.9 L215.5,460.4 L216.5,460.8 L217.5,461.3 L218.5,461.9 L219.5,462.4 L220.5,462.9 L221.5,463.5 L222.5,464.1 L223.5,464.7 L224.5,465.4 L225.5,466.1 L226.5,466.7 L227.5,467.1 L228.5,467.4 L229.5,467.6 L230.5,467.8 L231.5,468.0 L232.5,468.1 L233.5,468.1 L234.5,467.8 L235.5,467.1 L236.5,466.2 L237.5,465.2 L238.5,464.3 L239.5,463.4 L240.5,462.4 L241.5,461.3 L242.5,460.3 L243.5,459.5 L244.5,458.8 L245.5,458.5 L246.5,458.3 L247.5,458.1 L248.5,457.9 L249.5,457.8 L250.5,457.6 L251.5,457.5 L252.5,457.3 L253.5,457.0 L254.5,456.8 L255.5,456.5 L256.5,456.3 L257.5,456.0 L258.5,455.7 L259.5,455.3 L260.5,454.8 L261.5,454.3 L262.5,453.8 L263.5,453.3 L264.5,453.1 L265.5,453.0 L266.5,453.2 L267.5,453.6 L268.5,454.1 L269.5,454.6 L270.5,455.0 L271.5,455.2 L272.5,455.2 L273.5,455.1 L274.5,455.0 L275.5,454.9 L276.5,454.7 L277.5,454.6 L278.5,454.4 L279.5,454.3 L280.5,454.1 L281.5,454.0 L282.5,454.1 L283.5,454.9 L284.5,456.0 L285.5,457.3 L286.5,459.3 L287.5,461.7 L288.5,464.2 L289.5,466.6 L290.5,469.2 L291.5,471.3 L292.5,472.6 L293.5,473.7 L294.5,474.7 L295.5,475.4 L296.5,475.8 L297.5,475.8 L298.5,475.7 L299.5,475.5 L300.5,475.2 L301.5,475.0 L302.5,474.9 L303.5,474.8 L304.5,475.0 L305.5,475.4 L306.5,476.2 L307.5,477.0 L308.5,477.8 L309.5,478.6 L310.5,479.2 L311.5,479.7 L312.5,480.2 L313.5,480.7 L314.5,481.1 L315.5,481.5 L316.5,481.8 L317.5,482.0 L318.5,482.3 L319.5,482.5 L320.5,482.7 L321.5,482.8 L322.5,482.8 L323.5,482.4 L324.5,481.9 L325.5,481.2 L326.5,480.6 L327.5,480.0 L328.5,479.4 L329.5,478.7 L330.5,478.2 L331.5,477.8 L332.5,477.8 L333.5,477.9 L334.5,478.0 L335.5,478.2 L336.5,478.5 L337.5,478.8 L338.5,479.3 L339.5,480.1 L340.5,480.9 L341.5,481.6 L342.5,482.1 L343.5,482.6 L344.5,483.1 L345.5,483.5 L346.5,483.9 L347.5,484.2 L348.5,484.5 L349.5,484.7 L350.5,484.9 L351.5,485.1 L352.5,485.2 L353.5,485.3 L354.5,485.3 L355.5,485.1 L356.5,484.8 L357.5,484.5 L358.5,484.2 L359.5,483.9 L360.5,483.6 L361.5,483.3 L362.5,483.1 L363.5,482.8 L364.5,482.5 L365.5,482.3 L366.5,482.0 L367.5,481.8 L368.5,481.6 L369.5,481.4 L370.5,481.2 L371.5,481.0 L372.5,480.7 L373.5,480.3 L374.5,479.9 L375.5,479.5 L376.5,479.1 L377.5,478.8 L378.5,478.6 L379.5,478.6 L380.5,478.7 L381.5,478.9 L382.5,479.1 L383.5,479.3 L384.5,479.6 L385.5,480.0 L386.5,480.5 L387.5,480.9 L388.5,481.1 L389.5,481.1 L390.5,480.9 L391.5,480.7 L392.5,480.4 L393.5,480.1 L394.5,479.7 L395.5,479.4 L396.5,479.1 L397.5,478.9 L398.5,478.7 L399.5,478.6 L400.5,478.4 L401.5,478.2 L402.5,478.0 L403.5,477.8 L404.5,477.6 L405.5,477.3 L406.5,477.1 L407.5,476.8 L408.5,476.5 L409.5,476.1 L410.5,475.6 L411.5,474.6 L412.5,473.4 L413.5,471.9 L414.5,470.3 L415.5,468.8 L416.5,466.9 L417.5,464.9 L418.5,462.8 L419.5,461.1 L420.5,459.7 L421.5,458.4 L422.5,457.3 L423.5,456.5 L424.5,456.0 L425.5,455.8 L426.5,455.7 L427.5,455.6 L428.5,455.5 L429.5,455.3 L430.5,455.1 L431.5,454.8 L432.5,454.4 L433.5,453.9 L434.5,453.4 L435.5,453.1 L436.5,452.8 L437.5,452.6 L438.5,452.4 L439.5,452.3 L440.5,452.2 L441.5,452.1 L442.5,452.0 L443.5,451.9 L444.5,451.8 L445.5,451.6 L446.5,451.4 L447.5,451.2 L448.5,451.1 L449.5,451.0 L450.5,451.0 L451.5,451.0 L452.5,451.1 L453.5,451.2 L454.5,451.3 L455.5,451.5 L456.5,451.8 L457.5,452.4 L458.5,453.1 L459.5,453.9 L460.5,454.6 L461.5,455.6 L462.5,456.6 L463.5,457.7 L464.5,458.8 L465.5,459.7 L466.5,460.5 L467.5,461.2 L468.5,462.0 L469.5,462.7 L470.5,463.3 L471.5,463.8 L472.5,464.2 L473.5,464.7 L474.5,465.2 L475.5,465.9 L476.5,466.9 L477.5,468.1 L478.5,469.4 L479.5,470.9 L480.5,472.4 L481.5,474.2 L482.5,476.1 L483.5,478.0 L484.5,479.5 L485.5,480.9 L486.5,482.2 L487.5,483.2 L488.5,483.6 L489.5,483.6 L490.5,483.4 L491.5,483.3 L492.5,483.1 L493.5,482.9 L494.5,482.8 L495.5,482.8 L496.5,482.8 L497.5,482.9 L498.5,483.1 L499.5,483.2 L500.5,483.4 L501.5,483.5 L502.5,483.7 L503.5,483.9 L504.5,484.2 L505.5,484.4 L506.5,484.7 L507.5,484.9 L508.5,485.1 L509.5,485.3 L510.5,485.3 L511.5,485.3 L512.5,485.2 L513.5,485.1 L514.5,485.0 L515.5,484.9 L516.5,484.8 L517.5,484.6 L518.5,484.5 L519.5,484.4 L520.5,484.3 L521.5,484.3 L522.5,484.2 L523.5,484.1 L524.5,484.0 L525.5,483.9 L526.5,483.7 L527.5,483.5 L528.5,483.0 L529.5,482.4 L530.5,481.7 L531.5,480.8 L532.5,479.5 L533.5,477.9 L534.5,476.0 L535.5,474.2 L536.5,472.3 L537.5,470.3 L538.5,468.2 L539.5,466.2 L540.5,464.2 L541.5,462.2 L542.5,460.1 L543.5,458.1 L544.5,456.4 L545.5,455.1 L546.5,454.0 L547.5,453.0 L548.5,452.2 L549.5,451.9 L550.5,452.0 L551.5,452.3 L552.5,452.8 L553.5,453.4 L554.5,454.4 L555.5,456.2 L556.5,458.3 L557.5,460.1 L558.5,461.7 L559.5,463.3 L560.5,464.5 L561.5,465.5 L562.5,466.5 L563.5,467.2 L564.5,467.7 L565.5,467.9 L566.5,468.1 L567.5,468.3 L568.5,468.4 L569.5,468.5 L570.5,468.6 L571.5,468.7 L572.5,468.8 L573.5,468.9 L574.5,469.0 L575.5,469.1 L576.5,469.1 L577.5,469.1 L578.5,468.7 L579.5,468.2 L580.5,467.4 L581.5,466.6 L582.5,465.8 L583.5,464.8 L584.5,463.7 L585.5,462.6 L586.5,461.4 L587.5,460.0 L588.5,458.6 L589.5,457.4 L590.5,456.5 L591.5,455.6 L592.5,454.8 L593.5,454.1 L594.5,453.7 L595.5,453.4 L596.5,453.1 L597.5,452.9 L598.5,452.8 L599.5,452.7 L600.5,452.7 L601.5,453.0 L602.5,453.6 L603.5,454.2 L604.5,454.8 L605.5,455.4 L606.5,456.2 L607.5,457.0 L608.5,457.7 L609.5,458.3 L610.5,458.7 L611.5,459.1 L612.5,459.3 L613.5,459.5 L614.5,459.7 L615.5,459.7 L616.5,459.5 L617.5,459.2 L618.5,458.9 L619.5,458.6 L620.5,458.6 L621.5,459.0 L622.5,459.6 L623.5,460.4 L624.5,461.3 L625.5,462.8 L626.5,464.7 L627.5,466.9 L628.5,468.8 L629.5,470.5 L630.5,472.2 L631.5,473.9 L632.5,475.5 L633.5,476.9 L634.5,478.3 L635.5,479.6 L636.5,480.9 L637.5,482.0 L638.5,482.8 L639.5,483.5 L640.5,484.2 L641.5,484.8 L642.5,485.2 L643.5,485.3 L644.5,485.3 L645.5,485.2 L646.5,485.1 L647.5,485.0 L648.5,484.8 L649.5,484.5 L650.5,484.0 L651.5,483.3 L652.5,482.6 L653.5,481.9 L654.5,481.2 L655.5,480.5 L656.5,479.8 L657.5,479.1 L658.5,478.6 L659.5,478.1 L660.5,477.7 L661.5,477.3 L662.5,477.0 L663.5,476.9 L664.5,477.0 L665.5,477.3 L666.5,477.7 L667.5,478.2 L668.5,478.6 L669.5,479.1 L670.5,479.7 L671.5,480.4 L672.5,480.9 L673.5,481.4 L674.5,481.7 L675.5,482.0 L676.5,482.3 L677.5,482.5 L678.5,482.7 L679.5,482.8 L680.5,482.8 L681.5,482.8 L682.5,482.7 L683.5,482.7 L684.5,482.6 L685.5,482.5 L686.5,482.4 L687.5,482.3 L688.5,482.0 L689.5,481.6 L690.5,481.2 L691.5,480.7 L692.5,480.4 L693.5,480.3 L694.5,480.3 L695.5,480.3 L696.5,480.3 L697.5,480.3 L698.5,480.3 L699.5,480.5 L700.5,481.1 L701.5,481.8 L702.5,482.5 L703.5,482.8 L704.5,482.8 L705.5,482.7 L706.5,482.6 L707.5,482.5 L708.5,482.0 L709.5,480.9 L710.5,479.3 L711.5,477.7 L712.5,476.1 L713.5,474.4 L714.5,472.6 L715.5,470.8 L716.5,469.2 L717.5,468.0 L718.5,466.8 L719.5,465.7 L720.5,464.9 L721.5,464.7 L722.5,464.6 L723.5,464.5 L724.5,464.5 L725.5,464.5 L726.5,464.4 L727.5,464.4 L728.5,464.3 L729.5,464.3 L730.5,464.3 L731.5,464.2 L732.5,464.2 L733.5,464.1 L734.5,464.0 L735.5,463.7 L736.5,463.2 L737.5,462.7 L738.5,462.1 L739.5,461.6 L740.5,461.1 L741.5,460.5 L742.5,459.8 L743.5,459.1 L744.5,458.6 L745.5,458.2 L746.5,458.1 L747.5,458.2 L748.5,458.3 L749.5,458.4 L750.5,458.6 L751.5,459.5 L752.5,460.9 L753.5,462.4 L754.5,463.4 L755.5,464.4 L756.5,465.3 L757.5,466.1 L758.5,466.8 L759.5,467.2 L760.5,467.5 L761.5,467.8 L762.5,468.1 L763.5,468.3 L764.5,468.6 L765.5,468.8 L766.5,468.9 L767.5,469.1 L768.5,469.3 L769.5,469.8 L770.5,470.8 L771.5,472.1 L772.5,473.6 L773.5,474.9 L774.5,476.2 L775.5,477.5 L776.5,478.8 L777.5,479.9 L778.5,480.9 L779.5,481.6 L780.5,482.2 L781.5,482.7 L782.5,483.2 L783.5,483.6 L784.5,484.0 L785.5,484.2 L786.5,484.5 L787.5,484.7 L788.5,485.0 L789.5,485.1 L790.5,485.2 L791.5,485.3 L792.5,485.2 L793.5,485.0 L794.5,484.7 L795.5,484.2 L796.5,483.7 L797.5,483.0 L798.5,482.0 L799.5,480.7 L800.5,479.3 L801.5,478.0 L802.5,476.9 L803.5,475.6 L804.5,474.4 L805.5,473.3 L806.5,472.1 L807.5,471.1 L808.5,470.1 L809.5,469.2 L810.5,468.2 L811.5,467.1 L812.5,465.9 L813.5,464.5 L814.5,463.0 L815.5,461.4 L816.5,459.8 L817.5,458.3 L818.5,456.6 L819.5,455.0 L820.5,453.5 L821.5,452.2 L822.5,451.2 L823.5,450.3 L824.5,449.6 L825.5,448.9 L826.5,448.6 L827.5,448.4 L828.5,448.3 L829.5,448.2 L830.5,448.1 L831.5,448.0 L832.5,448.0 L833.5,448.0 L834.5,448.0 L835.5,448.0 L836.5,448.0 L837.5,448.0 L838.5,448.0 L839.5,448.0 L840.5,448.0 L841.5,448.2 L842.5,448.7 L843.5,449.2 L844.5,449.8 L845.5,450.4 L846.5,451.1 L847.5,451.9 L848.5,452.7 L849.5,453.3 L850.5,453.6 L851.5,453.7 L852.5,453.8 L853.5,453.9 L854.5,454.0 L855.5,454.0 L856.5,453.7 L857.5,453.3 L858.5,452.8 L859.5,452.5 L860.5,452.4 L861.5,452.5 L862.5,452.7 L863.5,453.0 L864.5,453.3 L865.5,453.6 L866.5,454.1 L867.5,454.8 L868.5,455.6 L869.5,456.4 L870.5,457.1 L871.5,457.9 L872.5,458.7 L873.5,459.5 L874.5,460.4 L875.5,461.4 L876.5,462.4 L877.5,463.4 L878.5,464.6 L879.5,465.8 L880.5,467.2 L881.5,468.9 L882.5,470.8 L883.5,472.8 L884.5,474.7 L885.5,476.4 L886.5,478.2 L887.5,480.1 L888.5,481.7 L889.5,482.8 L890.5,483.1 L891.5,483.1 L892.5,483.0 L893.5,483.0 L894.5,482.9 L895.5,482.8 L896.5,482.6 L897.5,482.3 L898.5,481.9 L899.5,481.6 L900.5,481.4 L901.5,481.2 L902.5,481.0 L903.5,480.8 L904.5,480.7 L905.5,480.5 L906.5,480.4 L907.5,480.2 L908.5,480.0 L909.5,479.7 L910.5,479.5 L911.5,479.4 L912.5,479.4 L913.5,479.5 L914.5,479.6 L915.5,479.8" fill="none" stroke="#e0101e" stroke-width="2.1" stroke-linejoin="round" stroke-linecap="round"/>
<rect x="0" y="472" width="76.3" height="34" fill="#d9d9d9"/>
<g font-size="10.2">
<text x="5.5" y="369.2" fill="#333">VOL</text>
<text x="33.6" y="369.2" fill="#7cc242">2.91</text>
<text x="5.5" y="439.6" fill="#333">SlowSTO(3,14,3)</text>
<text x="92.9" y="439.6" fill="#3f97e8">K:18.32</text>
<text x="136.4" y="439.6" fill="#e02a2a">D:18.06</text>
</g>
<text x="1093.6" y="231.3" font-size="13" fill="#e84a62">28.38</text>
<text x="1094" y="301.5" font-size="13" fill="#4f70dd">24.31</text>
<rect x="0" y="0" width="1028" height="2" fill="#0e0e0e"/>
<rect x="1129" y="0" width="68" height="2.2" fill="#0e0e0e"/>
<rect x="1134" y="2" width="63" height="504" fill="#131313"/>
<rect x="1195" y="2" width="2" height="504" fill="#2b2b2b"/>
<rect x="1134" y="359" width="63" height="1" fill="#8a8a8a"/>
<rect x="1134" y="429" width="63" height="1" fill="#8a8a8a"/>
<rect x="76.3" y="488.1" width="1121" height="13" fill="#121212"/>
<rect x="76.3" y="500.8" width="1121" height="5.2" fill="#333333"/>
<rect x="319" y="502.6" width="407" height="3.4" fill="#5a5a5a"/>
<rect x="1084" y="503" width="87" height="3" fill="none" stroke="#555" stroke-width="1"/>
<g font-size="10.7" fill="#ffffff" stroke="#ffffff" stroke-width="0.18">
<rect x="176.8" y="482" width="1" height="6.1" fill="#8e8e8e"/>
<text x="179" y="499.4">2025Jan</text>
<rect x="321.3" y="482" width="1" height="6.1" fill="#8e8e8e"/>
<text x="323.3" y="499.4">Mar</text>
<rect x="461.9" y="482" width="1" height="6.1" fill="#8e8e8e"/>
<text x="464.3" y="499.4">May</text>
<rect x="598.4" y="482" width="1" height="6.1" fill="#8e8e8e"/>
<text x="600.8" y="499.4">Jul</text>
<rect x="754.7" y="482" width="1" height="6.1" fill="#8e8e8e"/>
<text x="756.9" y="499.4">Sep</text>
<rect x="905.9" y="482" width="1" height="6.1" fill="#8e8e8e"/>
<text x="907.5" y="499.4">Nov</text>
<rect x="1059.1" y="482" width="1" height="6.1" fill="#8e8e8e"/>
<text x="1061.3" y="499.4">2026Jan</text>
</g>
<g font-size="10.7" fill="#ffffff" stroke="#ffffff" stroke-width="0.18">
<rect x="1134" y="41" width="6" height="1" fill="#f0f0f0"/>
<text x="1141.2" y="45.0">40.0000</text>
<rect x="1134" y="75" width="6" height="1" fill="#f0f0f0"/>
<text x="1141.2" y="79.0">38.0000</text>
<rect x="1134" y="109" width="6" height="1" fill="#f0f0f0"/>
<text x="1141.2" y="113.0">36.0000</text>
<rect x="1134" y="143" width="6" height="1" fill="#f0f0f0"/>
<text x="1141.2" y="147.0">34.0000</text>
<rect x="1134" y="177" width="6" height="1" fill="#f0f0f0"/>
<text x="1141.2" y="181.0">32.0000</text>
<rect x="1134" y="211" width="6" height="1" fill="#f0f0f0"/>
<text x="1141.2" y="215.0">30.0000</text>
<rect x="1134" y="245" width="6" height="1" fill="#f0f0f0"/>
<text x="1141.2" y="249.0">28.0000</text>
<rect x="1134" y="279" width="6" height="1" fill="#f0f0f0"/>
<text x="1141.2" y="283.0">26.0000</text>
<rect x="1134" y="313" width="6" height="1" fill="#f0f0f0"/>
<text x="1141.2" y="317.0">24.0000</text>
<rect x="1134" y="422" width="6" height="1" fill="#f0f0f0"/>
<text x="1141.2" y="426.0">0M</text>
<rect x="1134" y="487" width="6" height="1" fill="#f0f0f0"/>
<text x="1141.2" y="491.0">0.0000</text>
<rect x="1134" y="347" width="5" height="1" fill="#f0f0f0"/>
</g>
<polygon points="1135.6,301.2 1140.4,293.4 1192.5,293.4 1192.5,308.9 1140.4,308.9" fill="#0e870f"/>
<rect x="1140.5" y="314" width="52" height="15.4" fill="#cc99ff"/>
<rect x="1139" y="338.2" width="56" height="17.8" fill="#ffff1e"/>
<rect x="1140.8" y="404.2" width="51.4" height="15.6" fill="#4dc016"/>
<rect x="1140.2" y="451.5" width="52" height="15.9" fill="#1e90ff"/>
<rect x="1140.2" y="472" width="52" height="15.8" fill="#ff0000"/>
<g font-size="10.7">
<text x="1145.2" y="305.1" fill="#fff" stroke="#fff" stroke-width="0.3">24.7400</text>
<text x="1145.2" y="325" fill="#222" stroke="#222" stroke-width="0.2">24.3234</text>
<text x="1167" y="351" fill="#000" text-anchor="middle" font-size="10.6" font-family="'DejaVu Sans', sans-serif">خطي</text>
<text x="1144.6" y="415.9" fill="#222" stroke="#222" stroke-width="0.2">2.9105M</text>
<text x="1145.4" y="463.3" fill="#fff" stroke="#fff" stroke-width="0.3">18.3232</text>
<text x="1145.4" y="483.2" fill="#fff" stroke="#fff" stroke-width="0.3">18.0619</text>
</g>
</svg>
</body></html>
